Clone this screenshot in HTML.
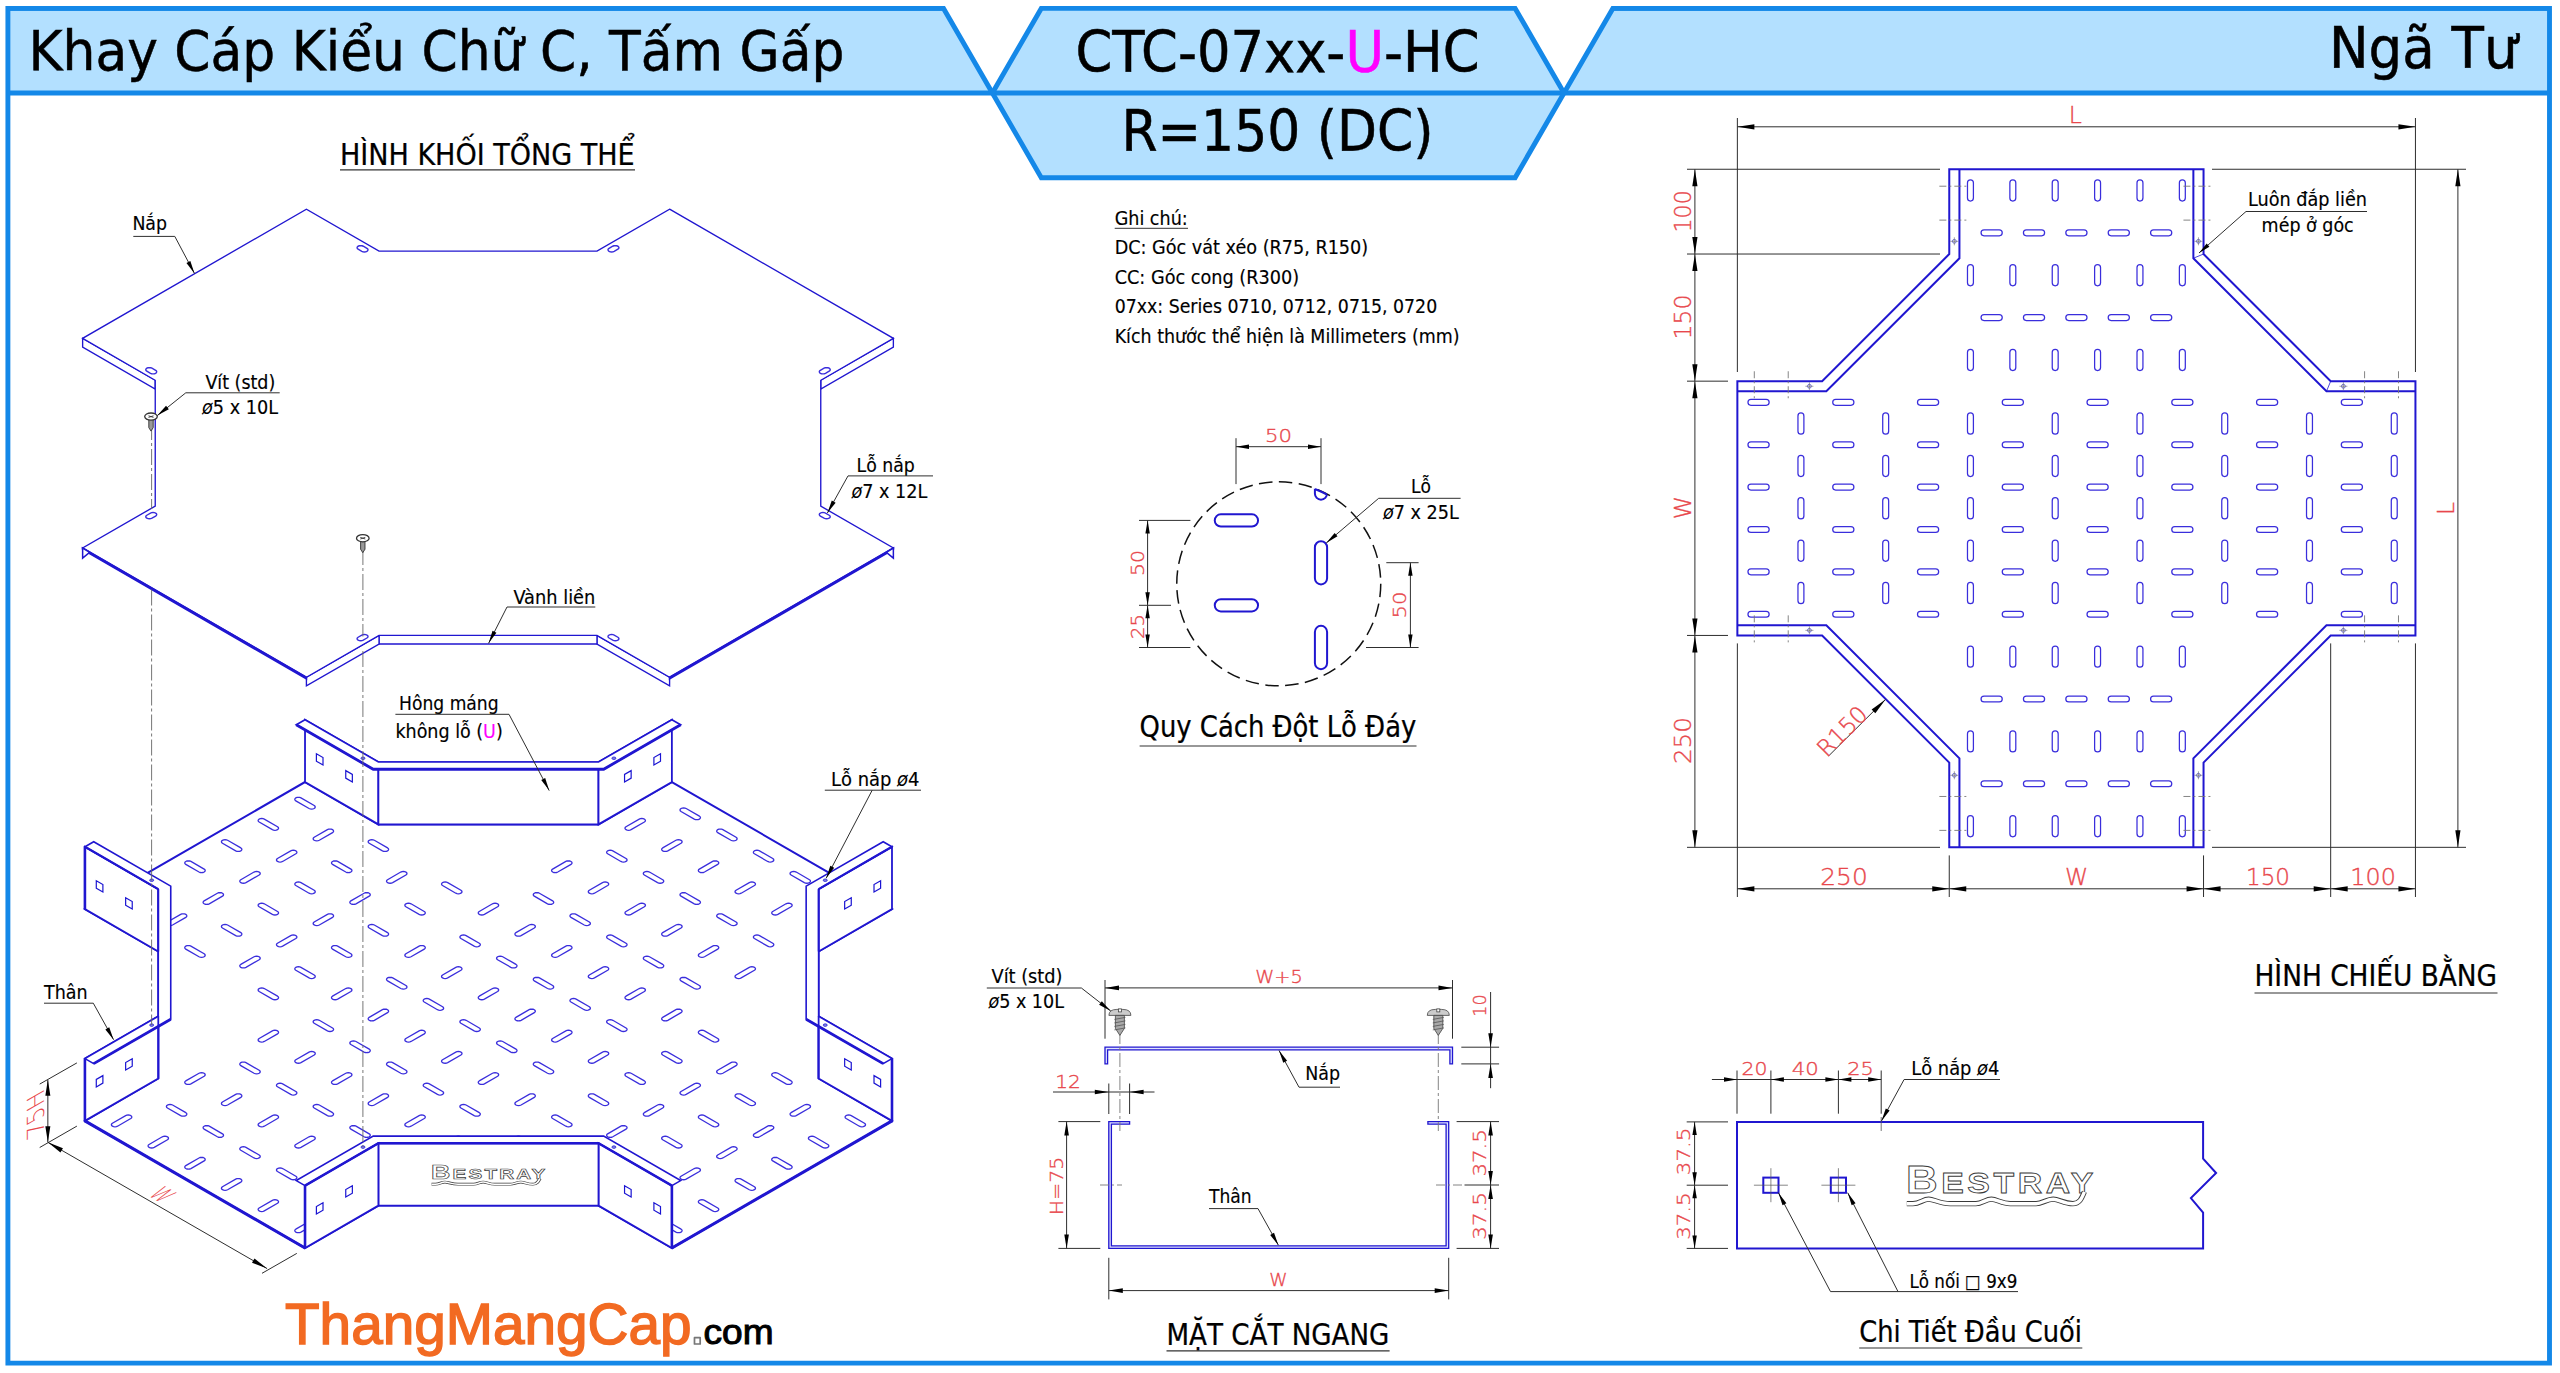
<!DOCTYPE html>
<html><head><meta charset="utf-8"><title>CTC-07xx-U-HC</title>
<style>html,body{margin:0;padding:0;background:#fff}svg{display:block}text{white-space:pre}</style></head>
<body><svg width="2560" height="1373" viewBox="0 0 2560 1373">
<rect width="2560" height="1373" fill="#fff"/>
<polygon points="7.9,8.4 943.55,8.4 992.4,93 7.9,93" fill="#b3e0ff"/>
<polygon points="1041.25,8.4 1515.15,8.4 1564,93 1515.09,177.7 1041.31,177.7 992.4,93" fill="#b3e0ff"/>
<polygon points="1612.85,8.4 2549.5,8.4 2549.5,93 1564,93" fill="#b3e0ff"/>
<polyline points="943.55,8.4 7.9,8.4 7.9,1363.1 2549.5,1363.1 2549.5,8.4 1612.85,8.4" fill="none" stroke="#1488e8" stroke-width="4.9" stroke-linejoin="miter" />
<line x1="7.9" y1="93" x2="2549.5" y2="93" stroke="#1488e8" stroke-width="4.9" />
<polyline points="7.9,8.4 943.55,8.4 992.4,93 1041.31,177.7 1515.09,177.7 1564,93 1612.85,8.4 2549.5,8.4" fill="none" stroke="#1488e8" stroke-width="4.9" stroke-linejoin="miter" />
<polyline points="992.4,93 1041.25,8.4 1515.15,8.4 1564,93" fill="none" stroke="#1488e8" stroke-width="4.9" stroke-linejoin="miter" />
<g id="plan">
<g fill="none" stroke="#3a2edc" stroke-width="1.25">
<rect x="1747.96" y="399.38" width="21.19" height="5.93" rx="2.97"/>
<rect x="1747.96" y="441.76" width="21.19" height="5.93" rx="2.97"/>
<rect x="1747.96" y="484.14" width="21.19" height="5.93" rx="2.97"/>
<rect x="1747.96" y="526.52" width="21.19" height="5.93" rx="2.97"/>
<rect x="1747.96" y="568.9" width="21.19" height="5.93" rx="2.97"/>
<rect x="1747.96" y="611.28" width="21.19" height="5.93" rx="2.97"/>
<rect x="1832.72" y="399.38" width="21.19" height="5.93" rx="2.97"/>
<rect x="1832.72" y="441.76" width="21.19" height="5.93" rx="2.97"/>
<rect x="1832.72" y="484.14" width="21.19" height="5.93" rx="2.97"/>
<rect x="1832.72" y="526.52" width="21.19" height="5.93" rx="2.97"/>
<rect x="1832.72" y="568.9" width="21.19" height="5.93" rx="2.97"/>
<rect x="1832.72" y="611.28" width="21.19" height="5.93" rx="2.97"/>
<rect x="1917.48" y="399.38" width="21.19" height="5.93" rx="2.97"/>
<rect x="1917.48" y="441.76" width="21.19" height="5.93" rx="2.97"/>
<rect x="1917.48" y="484.14" width="21.19" height="5.93" rx="2.97"/>
<rect x="1917.48" y="526.52" width="21.19" height="5.93" rx="2.97"/>
<rect x="1917.48" y="568.9" width="21.19" height="5.93" rx="2.97"/>
<rect x="1917.48" y="611.28" width="21.19" height="5.93" rx="2.97"/>
<rect x="2002.24" y="399.38" width="21.19" height="5.93" rx="2.97"/>
<rect x="2002.24" y="441.76" width="21.19" height="5.93" rx="2.97"/>
<rect x="2002.24" y="484.14" width="21.19" height="5.93" rx="2.97"/>
<rect x="2002.24" y="526.52" width="21.19" height="5.93" rx="2.97"/>
<rect x="2002.24" y="568.9" width="21.19" height="5.93" rx="2.97"/>
<rect x="2002.24" y="611.28" width="21.19" height="5.93" rx="2.97"/>
<rect x="2087" y="399.38" width="21.19" height="5.93" rx="2.97"/>
<rect x="2087" y="441.76" width="21.19" height="5.93" rx="2.97"/>
<rect x="2087" y="484.14" width="21.19" height="5.93" rx="2.97"/>
<rect x="2087" y="526.52" width="21.19" height="5.93" rx="2.97"/>
<rect x="2087" y="568.9" width="21.19" height="5.93" rx="2.97"/>
<rect x="2087" y="611.28" width="21.19" height="5.93" rx="2.97"/>
<rect x="2171.76" y="399.38" width="21.19" height="5.93" rx="2.97"/>
<rect x="2171.76" y="441.76" width="21.19" height="5.93" rx="2.97"/>
<rect x="2171.76" y="484.14" width="21.19" height="5.93" rx="2.97"/>
<rect x="2171.76" y="526.52" width="21.19" height="5.93" rx="2.97"/>
<rect x="2171.76" y="568.9" width="21.19" height="5.93" rx="2.97"/>
<rect x="2171.76" y="611.28" width="21.19" height="5.93" rx="2.97"/>
<rect x="2256.52" y="399.38" width="21.19" height="5.93" rx="2.97"/>
<rect x="2256.52" y="441.76" width="21.19" height="5.93" rx="2.97"/>
<rect x="2256.52" y="484.14" width="21.19" height="5.93" rx="2.97"/>
<rect x="2256.52" y="526.52" width="21.19" height="5.93" rx="2.97"/>
<rect x="2256.52" y="568.9" width="21.19" height="5.93" rx="2.97"/>
<rect x="2256.52" y="611.28" width="21.19" height="5.93" rx="2.97"/>
<rect x="2341.28" y="399.38" width="21.19" height="5.93" rx="2.97"/>
<rect x="2341.28" y="441.76" width="21.19" height="5.93" rx="2.97"/>
<rect x="2341.28" y="484.14" width="21.19" height="5.93" rx="2.97"/>
<rect x="2341.28" y="526.52" width="21.19" height="5.93" rx="2.97"/>
<rect x="2341.28" y="568.9" width="21.19" height="5.93" rx="2.97"/>
<rect x="2341.28" y="611.28" width="21.19" height="5.93" rx="2.97"/>
<rect x="1797.96" y="412.94" width="5.93" height="21.19" rx="2.97"/>
<rect x="1797.96" y="455.32" width="5.93" height="21.19" rx="2.97"/>
<rect x="1797.96" y="497.7" width="5.93" height="21.19" rx="2.97"/>
<rect x="1797.96" y="540.09" width="5.93" height="21.19" rx="2.97"/>
<rect x="1797.96" y="582.47" width="5.93" height="21.19" rx="2.97"/>
<rect x="1882.72" y="412.94" width="5.93" height="21.19" rx="2.97"/>
<rect x="1882.72" y="455.32" width="5.93" height="21.19" rx="2.97"/>
<rect x="1882.72" y="497.7" width="5.93" height="21.19" rx="2.97"/>
<rect x="1882.72" y="540.09" width="5.93" height="21.19" rx="2.97"/>
<rect x="1882.72" y="582.47" width="5.93" height="21.19" rx="2.97"/>
<rect x="1967.48" y="412.94" width="5.93" height="21.19" rx="2.97"/>
<rect x="1967.48" y="455.32" width="5.93" height="21.19" rx="2.97"/>
<rect x="1967.48" y="497.7" width="5.93" height="21.19" rx="2.97"/>
<rect x="1967.48" y="540.09" width="5.93" height="21.19" rx="2.97"/>
<rect x="1967.48" y="582.47" width="5.93" height="21.19" rx="2.97"/>
<rect x="2052.24" y="412.94" width="5.93" height="21.19" rx="2.97"/>
<rect x="2052.24" y="455.32" width="5.93" height="21.19" rx="2.97"/>
<rect x="2052.24" y="497.7" width="5.93" height="21.19" rx="2.97"/>
<rect x="2052.24" y="540.09" width="5.93" height="21.19" rx="2.97"/>
<rect x="2052.24" y="582.47" width="5.93" height="21.19" rx="2.97"/>
<rect x="2137" y="412.94" width="5.93" height="21.19" rx="2.97"/>
<rect x="2137" y="455.32" width="5.93" height="21.19" rx="2.97"/>
<rect x="2137" y="497.7" width="5.93" height="21.19" rx="2.97"/>
<rect x="2137" y="540.09" width="5.93" height="21.19" rx="2.97"/>
<rect x="2137" y="582.47" width="5.93" height="21.19" rx="2.97"/>
<rect x="2221.76" y="412.94" width="5.93" height="21.19" rx="2.97"/>
<rect x="2221.76" y="455.32" width="5.93" height="21.19" rx="2.97"/>
<rect x="2221.76" y="497.7" width="5.93" height="21.19" rx="2.97"/>
<rect x="2221.76" y="540.09" width="5.93" height="21.19" rx="2.97"/>
<rect x="2221.76" y="582.47" width="5.93" height="21.19" rx="2.97"/>
<rect x="2306.52" y="412.94" width="5.93" height="21.19" rx="2.97"/>
<rect x="2306.52" y="455.32" width="5.93" height="21.19" rx="2.97"/>
<rect x="2306.52" y="497.7" width="5.93" height="21.19" rx="2.97"/>
<rect x="2306.52" y="540.09" width="5.93" height="21.19" rx="2.97"/>
<rect x="2306.52" y="582.47" width="5.93" height="21.19" rx="2.97"/>
<rect x="2391.28" y="412.94" width="5.93" height="21.19" rx="2.97"/>
<rect x="2391.28" y="455.32" width="5.93" height="21.19" rx="2.97"/>
<rect x="2391.28" y="497.7" width="5.93" height="21.19" rx="2.97"/>
<rect x="2391.28" y="540.09" width="5.93" height="21.19" rx="2.97"/>
<rect x="2391.28" y="582.47" width="5.93" height="21.19" rx="2.97"/>
<rect x="1967.48" y="349.38" width="5.93" height="21.19" rx="2.97"/>
<rect x="2009.86" y="349.38" width="5.93" height="21.19" rx="2.97"/>
<rect x="2052.24" y="349.38" width="5.93" height="21.19" rx="2.97"/>
<rect x="2094.62" y="349.38" width="5.93" height="21.19" rx="2.97"/>
<rect x="2137" y="349.38" width="5.93" height="21.19" rx="2.97"/>
<rect x="2179.38" y="349.38" width="5.93" height="21.19" rx="2.97"/>
<rect x="1967.48" y="264.62" width="5.93" height="21.19" rx="2.97"/>
<rect x="2009.86" y="264.62" width="5.93" height="21.19" rx="2.97"/>
<rect x="2052.24" y="264.62" width="5.93" height="21.19" rx="2.97"/>
<rect x="2094.62" y="264.62" width="5.93" height="21.19" rx="2.97"/>
<rect x="2137" y="264.62" width="5.93" height="21.19" rx="2.97"/>
<rect x="2179.38" y="264.62" width="5.93" height="21.19" rx="2.97"/>
<rect x="1967.48" y="179.85" width="5.93" height="21.19" rx="2.97"/>
<rect x="2009.86" y="179.85" width="5.93" height="21.19" rx="2.97"/>
<rect x="2052.24" y="179.85" width="5.93" height="21.19" rx="2.97"/>
<rect x="2094.62" y="179.85" width="5.93" height="21.19" rx="2.97"/>
<rect x="2137" y="179.85" width="5.93" height="21.19" rx="2.97"/>
<rect x="2179.38" y="179.85" width="5.93" height="21.19" rx="2.97"/>
<rect x="1981.05" y="314.62" width="21.19" height="5.93" rx="2.97"/>
<rect x="2023.42" y="314.62" width="21.19" height="5.93" rx="2.97"/>
<rect x="2065.81" y="314.62" width="21.19" height="5.93" rx="2.97"/>
<rect x="2108.19" y="314.62" width="21.19" height="5.93" rx="2.97"/>
<rect x="2150.57" y="314.62" width="21.19" height="5.93" rx="2.97"/>
<rect x="1981.05" y="229.86" width="21.19" height="5.93" rx="2.97"/>
<rect x="2023.42" y="229.86" width="21.19" height="5.93" rx="2.97"/>
<rect x="2065.81" y="229.86" width="21.19" height="5.93" rx="2.97"/>
<rect x="2108.19" y="229.86" width="21.19" height="5.93" rx="2.97"/>
<rect x="2150.57" y="229.86" width="21.19" height="5.93" rx="2.97"/>
<rect x="1967.48" y="646.03" width="5.93" height="21.19" rx="2.97"/>
<rect x="2009.86" y="646.03" width="5.93" height="21.19" rx="2.97"/>
<rect x="2052.24" y="646.03" width="5.93" height="21.19" rx="2.97"/>
<rect x="2094.62" y="646.03" width="5.93" height="21.19" rx="2.97"/>
<rect x="2137" y="646.03" width="5.93" height="21.19" rx="2.97"/>
<rect x="2179.38" y="646.03" width="5.93" height="21.19" rx="2.97"/>
<rect x="1967.48" y="730.79" width="5.93" height="21.19" rx="2.97"/>
<rect x="2009.86" y="730.79" width="5.93" height="21.19" rx="2.97"/>
<rect x="2052.24" y="730.79" width="5.93" height="21.19" rx="2.97"/>
<rect x="2094.62" y="730.79" width="5.93" height="21.19" rx="2.97"/>
<rect x="2137" y="730.79" width="5.93" height="21.19" rx="2.97"/>
<rect x="2179.38" y="730.79" width="5.93" height="21.19" rx="2.97"/>
<rect x="1967.48" y="815.56" width="5.93" height="21.19" rx="2.97"/>
<rect x="2009.86" y="815.56" width="5.93" height="21.19" rx="2.97"/>
<rect x="2052.24" y="815.56" width="5.93" height="21.19" rx="2.97"/>
<rect x="2094.62" y="815.56" width="5.93" height="21.19" rx="2.97"/>
<rect x="2137" y="815.56" width="5.93" height="21.19" rx="2.97"/>
<rect x="2179.38" y="815.56" width="5.93" height="21.19" rx="2.97"/>
<rect x="1981.05" y="696.04" width="21.19" height="5.93" rx="2.97"/>
<rect x="2023.42" y="696.04" width="21.19" height="5.93" rx="2.97"/>
<rect x="2065.81" y="696.04" width="21.19" height="5.93" rx="2.97"/>
<rect x="2108.19" y="696.04" width="21.19" height="5.93" rx="2.97"/>
<rect x="2150.57" y="696.04" width="21.19" height="5.93" rx="2.97"/>
<rect x="1981.05" y="780.8" width="21.19" height="5.93" rx="2.97"/>
<rect x="2023.42" y="780.8" width="21.19" height="5.93" rx="2.97"/>
<rect x="2065.81" y="780.8" width="21.19" height="5.93" rx="2.97"/>
<rect x="2108.19" y="780.8" width="21.19" height="5.93" rx="2.97"/>
<rect x="2150.57" y="780.8" width="21.19" height="5.93" rx="2.97"/>
</g>
<polygon points="1949.26,169.26 2203.54,169.26 2203.54,254.02 2330.68,381.16 2415.44,381.16 2415.44,635.44 2330.68,635.44 2203.54,762.58 2203.54,847.34 1949.26,847.34 1949.26,762.58 1822.12,635.44 1737.36,635.44 1737.36,381.16 1822.12,381.16 1949.26,254.02" fill="none" stroke="#2016d0" stroke-width="2" stroke-linejoin="miter" />
<polyline points="1959.43,169.26 1959.43,258.23 1826.33,391.33 1737.36,391.33" fill="none" stroke="#2016d0" stroke-width="2" stroke-linejoin="miter" />
<polyline points="2193.37,169.26 2193.37,258.23 2326.47,391.33 2415.44,391.33" fill="none" stroke="#2016d0" stroke-width="2" stroke-linejoin="miter" />
<polyline points="2193.37,847.34 2193.37,758.37 2326.47,625.27 2415.44,625.27" fill="none" stroke="#2016d0" stroke-width="2" stroke-linejoin="miter" />
<polyline points="1959.43,847.34 1959.43,758.37 1826.33,625.27 1737.36,625.27" fill="none" stroke="#2016d0" stroke-width="2" stroke-linejoin="miter" />
<line x1="2203.54" y1="254.02" x2="2193.37" y2="258.23" stroke="#2016d0" stroke-width="0.8" />
<line x1="2330.68" y1="381.16" x2="2326.47" y2="391.33" stroke="#2016d0" stroke-width="0.8" />
<line x1="1939.35" y1="186.21" x2="1969.35" y2="186.21" stroke="#777" stroke-width="0.9" stroke-dasharray="7 3 2 3"/>
<line x1="1939.35" y1="220.12" x2="1969.35" y2="220.12" stroke="#777" stroke-width="0.9" stroke-dasharray="7 3 2 3"/>
<circle cx="1954.35" cy="241.31" r="1.9" fill="none" stroke="#4a4ac8" stroke-width="0.8"/>
<line x1="1950.35" y1="241.31" x2="1958.35" y2="241.31" stroke="#666" stroke-width="0.6" />
<line x1="1954.35" y1="237.31" x2="1954.35" y2="245.31" stroke="#666" stroke-width="0.6" />
<line x1="1754.31" y1="371.25" x2="1754.31" y2="401.25" stroke="#777" stroke-width="0.9" stroke-dasharray="7 3 2 3"/>
<line x1="1788.22" y1="371.25" x2="1788.22" y2="401.25" stroke="#777" stroke-width="0.9" stroke-dasharray="7 3 2 3"/>
<circle cx="1809.41" cy="386.25" r="1.9" fill="none" stroke="#4a4ac8" stroke-width="0.8"/>
<line x1="1805.41" y1="386.25" x2="1813.41" y2="386.25" stroke="#666" stroke-width="0.6" />
<line x1="1809.41" y1="382.25" x2="1809.41" y2="390.25" stroke="#666" stroke-width="0.6" />
<line x1="1939.35" y1="830.39" x2="1969.35" y2="830.39" stroke="#777" stroke-width="0.9" stroke-dasharray="7 3 2 3"/>
<line x1="1939.35" y1="796.48" x2="1969.35" y2="796.48" stroke="#777" stroke-width="0.9" stroke-dasharray="7 3 2 3"/>
<circle cx="1954.35" cy="775.29" r="1.9" fill="none" stroke="#4a4ac8" stroke-width="0.8"/>
<line x1="1950.35" y1="775.29" x2="1958.35" y2="775.29" stroke="#666" stroke-width="0.6" />
<line x1="1954.35" y1="771.29" x2="1954.35" y2="779.29" stroke="#666" stroke-width="0.6" />
<line x1="1754.31" y1="615.35" x2="1754.31" y2="645.35" stroke="#777" stroke-width="0.9" stroke-dasharray="7 3 2 3"/>
<line x1="1788.22" y1="615.35" x2="1788.22" y2="645.35" stroke="#777" stroke-width="0.9" stroke-dasharray="7 3 2 3"/>
<circle cx="1809.41" cy="630.35" r="1.9" fill="none" stroke="#4a4ac8" stroke-width="0.8"/>
<line x1="1805.41" y1="630.35" x2="1813.41" y2="630.35" stroke="#666" stroke-width="0.6" />
<line x1="1809.41" y1="626.35" x2="1809.41" y2="634.35" stroke="#666" stroke-width="0.6" />
<line x1="2183.45" y1="186.21" x2="2213.45" y2="186.21" stroke="#777" stroke-width="0.9" stroke-dasharray="7 3 2 3"/>
<line x1="2183.45" y1="220.12" x2="2213.45" y2="220.12" stroke="#777" stroke-width="0.9" stroke-dasharray="7 3 2 3"/>
<circle cx="2198.45" cy="241.31" r="1.9" fill="none" stroke="#4a4ac8" stroke-width="0.8"/>
<line x1="2194.45" y1="241.31" x2="2202.45" y2="241.31" stroke="#666" stroke-width="0.6" />
<line x1="2198.45" y1="237.31" x2="2198.45" y2="245.31" stroke="#666" stroke-width="0.6" />
<line x1="2398.49" y1="371.25" x2="2398.49" y2="401.25" stroke="#777" stroke-width="0.9" stroke-dasharray="7 3 2 3"/>
<line x1="2364.58" y1="371.25" x2="2364.58" y2="401.25" stroke="#777" stroke-width="0.9" stroke-dasharray="7 3 2 3"/>
<circle cx="2343.39" cy="386.25" r="1.9" fill="none" stroke="#4a4ac8" stroke-width="0.8"/>
<line x1="2339.39" y1="386.25" x2="2347.39" y2="386.25" stroke="#666" stroke-width="0.6" />
<line x1="2343.39" y1="382.25" x2="2343.39" y2="390.25" stroke="#666" stroke-width="0.6" />
<line x1="2183.45" y1="830.39" x2="2213.45" y2="830.39" stroke="#777" stroke-width="0.9" stroke-dasharray="7 3 2 3"/>
<line x1="2183.45" y1="796.48" x2="2213.45" y2="796.48" stroke="#777" stroke-width="0.9" stroke-dasharray="7 3 2 3"/>
<circle cx="2198.45" cy="775.29" r="1.9" fill="none" stroke="#4a4ac8" stroke-width="0.8"/>
<line x1="2194.45" y1="775.29" x2="2202.45" y2="775.29" stroke="#666" stroke-width="0.6" />
<line x1="2198.45" y1="771.29" x2="2198.45" y2="779.29" stroke="#666" stroke-width="0.6" />
<line x1="2398.49" y1="615.35" x2="2398.49" y2="645.35" stroke="#777" stroke-width="0.9" stroke-dasharray="7 3 2 3"/>
<line x1="2364.58" y1="615.35" x2="2364.58" y2="645.35" stroke="#777" stroke-width="0.9" stroke-dasharray="7 3 2 3"/>
<circle cx="2343.39" cy="630.35" r="1.9" fill="none" stroke="#4a4ac8" stroke-width="0.8"/>
<line x1="2339.39" y1="630.35" x2="2347.39" y2="630.35" stroke="#666" stroke-width="0.6" />
<line x1="2343.39" y1="626.35" x2="2343.39" y2="634.35" stroke="#666" stroke-width="0.6" />
<line x1="1737.36" y1="118" x2="1737.36" y2="372" stroke="#2e2e2e" stroke-width="1" />
<line x1="2415.44" y1="118" x2="2415.44" y2="372" stroke="#2e2e2e" stroke-width="1" />
<line x1="1737.36" y1="126.8" x2="2415.44" y2="126.8" stroke="#2e2e2e" stroke-width="1" />
<polygon points="1737.36,126.8 1754.36,124.2 1754.36,129.4" fill="#000"/>
<polygon points="2415.44,126.8 2398.44,129.4 2398.44,124.2" fill="#000"/>
<line x1="1687" y1="169.26" x2="1940" y2="169.26" stroke="#2e2e2e" stroke-width="1" />
<line x1="1687" y1="254.02" x2="1940" y2="254.02" stroke="#2e2e2e" stroke-width="1" />
<line x1="1687" y1="381.16" x2="1728" y2="381.16" stroke="#2e2e2e" stroke-width="1" />
<line x1="1687" y1="635.44" x2="1728" y2="635.44" stroke="#2e2e2e" stroke-width="1" />
<line x1="1687" y1="847.34" x2="1940" y2="847.34" stroke="#2e2e2e" stroke-width="1" />
<line x1="1694.9" y1="169.26" x2="1694.9" y2="254.02" stroke="#2e2e2e" stroke-width="1" />
<polygon points="1694.9,169.26 1697.5,186.26 1692.3,186.26" fill="#000"/>
<polygon points="1694.9,254.02 1692.3,237.02 1697.5,237.02" fill="#000"/>
<line x1="1694.9" y1="254.02" x2="1694.9" y2="381.16" stroke="#2e2e2e" stroke-width="1" />
<polygon points="1694.9,254.02 1697.5,271.02 1692.3,271.02" fill="#000"/>
<polygon points="1694.9,381.16 1692.3,364.16 1697.5,364.16" fill="#000"/>
<line x1="1694.9" y1="381.16" x2="1694.9" y2="635.44" stroke="#2e2e2e" stroke-width="1" />
<polygon points="1694.9,381.16 1697.5,398.16 1692.3,398.16" fill="#000"/>
<polygon points="1694.9,635.44 1692.3,618.44 1697.5,618.44" fill="#000"/>
<line x1="1694.9" y1="635.44" x2="1694.9" y2="847.34" stroke="#2e2e2e" stroke-width="1" />
<polygon points="1694.9,635.44 1697.5,652.44 1692.3,652.44" fill="#000"/>
<polygon points="1694.9,847.34 1692.3,830.34 1697.5,830.34" fill="#000"/>
<line x1="2212" y1="169.26" x2="2466" y2="169.26" stroke="#2e2e2e" stroke-width="1" />
<line x1="2212" y1="847.34" x2="2466" y2="847.34" stroke="#2e2e2e" stroke-width="1" />
<line x1="2457.9" y1="169.26" x2="2457.9" y2="847.34" stroke="#2e2e2e" stroke-width="1" />
<polygon points="2457.9,169.26 2460.5,186.26 2455.3,186.26" fill="#000"/>
<polygon points="2457.9,847.34 2455.3,830.34 2460.5,830.34" fill="#000"/>
<line x1="1737.36" y1="643.4" x2="1737.36" y2="897" stroke="#2e2e2e" stroke-width="1" />
<line x1="1949.26" y1="855.4" x2="1949.26" y2="897" stroke="#2e2e2e" stroke-width="1" />
<line x1="2203.54" y1="855.4" x2="2203.54" y2="897" stroke="#2e2e2e" stroke-width="1" />
<line x1="2330.68" y1="643.4" x2="2330.68" y2="897" stroke="#2e2e2e" stroke-width="1" />
<line x1="2415.44" y1="643.4" x2="2415.44" y2="897" stroke="#2e2e2e" stroke-width="1" />
<line x1="1737.36" y1="888.8" x2="1949.26" y2="888.8" stroke="#2e2e2e" stroke-width="1" />
<polygon points="1737.36,888.8 1754.36,886.2 1754.36,891.4" fill="#000"/>
<polygon points="1949.26,888.8 1932.26,891.4 1932.26,886.2" fill="#000"/>
<line x1="1949.26" y1="888.8" x2="2203.54" y2="888.8" stroke="#2e2e2e" stroke-width="1" />
<polygon points="1949.26,888.8 1966.26,886.2 1966.26,891.4" fill="#000"/>
<polygon points="2203.54,888.8 2186.54,891.4 2186.54,886.2" fill="#000"/>
<line x1="2203.54" y1="888.8" x2="2330.68" y2="888.8" stroke="#2e2e2e" stroke-width="1" />
<polygon points="2203.54,888.8 2220.54,886.2 2220.54,891.4" fill="#000"/>
<polygon points="2330.68,888.8 2313.68,891.4 2313.68,886.2" fill="#000"/>
<line x1="2330.68" y1="888.8" x2="2415.44" y2="888.8" stroke="#2e2e2e" stroke-width="1" />
<polygon points="2330.68,888.8 2347.68,886.2 2347.68,891.4" fill="#000"/>
<polygon points="2415.44,888.8 2398.44,891.4 2398.44,886.2" fill="#000"/>
<line x1="1828.7" y1="755.9" x2="1885.5" y2="699.4" stroke="#2e2e2e" stroke-width="1" />
<polygon points="1885.5,699.4 1875.32,713.26 1871.64,709.58" fill="#000"/>
<polyline points="2367,211.5 2246,211.5 2199,253" fill="none" stroke="#2e2e2e" stroke-width="1" stroke-linejoin="miter" />
<polygon points="2199,253 2206.74,243.62 2209.37,246.64" fill="#000"/>
</g>
<defs><path id="su" d="M9.17 2.33 L9.96 3.01 L10.23 3.81 L9.96 4.61 L9.17 5.29 L7.99 5.75 L6.6 5.91 L5.21 5.75 L4.04 5.29 L-9.17 -2.33 L-9.96 -3.01 L-10.23 -3.81 L-9.96 -4.61 L-9.17 -5.29 L-7.99 -5.75 L-6.6 -5.91 L-5.21 -5.75 L-4.04 -5.29Z"/><path id="sv" d="M-9.17 2.33 L-9.96 3.01 L-10.23 3.81 L-9.96 4.61 L-9.17 5.29 L-7.99 5.75 L-6.6 5.91 L-5.21 5.75 L-4.04 5.29 L9.17 -2.33 L9.96 -3.01 L10.23 -3.81 L9.96 -4.61 L9.17 -5.29 L7.99 -5.75 L6.6 -5.91 L5.21 -5.75 L4.04 -5.29Z"/></defs>
<g id="isobody">
<polygon points="671.88,782.02 891.99,909.1 818.62,951.46 818.62,1078.54 891.99,1120.9 671.88,1247.98 598.5,1205.62 378.39,1205.62 305.02,1247.98 84.91,1120.9 158.28,1078.54 158.28,951.46 84.91,909.1 305.02,782.02 378.39,824.38 598.5,824.38" fill="#fff" stroke="#2016d0" stroke-width="2" stroke-linejoin="miter" />
<g fill="none" stroke="#3a2edc" stroke-width="1.3">
<use href="#sv" x="121.6" y="1120.9"/>
<use href="#sv" x="158.28" y="1142.08"/>
<use href="#sv" x="194.97" y="1163.26"/>
<use href="#sv" x="231.65" y="1184.44"/>
<use href="#sv" x="268.34" y="1205.62"/>
<use href="#sv" x="305.02" y="1226.8"/>
<use href="#sv" x="194.97" y="1078.54"/>
<use href="#sv" x="231.65" y="1099.72"/>
<use href="#sv" x="268.34" y="1120.9"/>
<use href="#sv" x="305.02" y="1142.08"/>
<use href="#sv" x="341.71" y="1163.26"/>
<use href="#sv" x="378.39" y="1184.44"/>
<use href="#sv" x="268.34" y="1036.18"/>
<use href="#sv" x="305.02" y="1057.36"/>
<use href="#sv" x="341.71" y="1078.54"/>
<use href="#sv" x="378.39" y="1099.72"/>
<use href="#sv" x="415.08" y="1120.9"/>
<use href="#sv" x="451.76" y="1142.08"/>
<use href="#sv" x="341.71" y="993.82"/>
<use href="#sv" x="378.39" y="1015"/>
<use href="#sv" x="415.08" y="1036.18"/>
<use href="#sv" x="451.76" y="1057.36"/>
<use href="#sv" x="488.45" y="1078.54"/>
<use href="#sv" x="525.13" y="1099.72"/>
<use href="#sv" x="415.08" y="951.46"/>
<use href="#sv" x="451.76" y="972.64"/>
<use href="#sv" x="488.45" y="993.82"/>
<use href="#sv" x="525.13" y="1015"/>
<use href="#sv" x="561.82" y="1036.18"/>
<use href="#sv" x="598.5" y="1057.36"/>
<use href="#sv" x="488.45" y="909.1"/>
<use href="#sv" x="525.13" y="930.28"/>
<use href="#sv" x="561.82" y="951.46"/>
<use href="#sv" x="598.5" y="972.64"/>
<use href="#sv" x="635.19" y="993.82"/>
<use href="#sv" x="671.88" y="1015"/>
<use href="#sv" x="561.82" y="866.74"/>
<use href="#sv" x="598.5" y="887.92"/>
<use href="#sv" x="635.19" y="909.1"/>
<use href="#sv" x="671.88" y="930.28"/>
<use href="#sv" x="708.56" y="951.46"/>
<use href="#sv" x="745.25" y="972.64"/>
<use href="#sv" x="635.19" y="824.38"/>
<use href="#sv" x="671.88" y="845.56"/>
<use href="#sv" x="708.56" y="866.74"/>
<use href="#sv" x="745.25" y="887.92"/>
<use href="#sv" x="781.93" y="909.1"/>
<use href="#sv" x="818.62" y="930.28"/>
<use href="#su" x="176.63" y="1110.31"/>
<use href="#su" x="213.31" y="1131.49"/>
<use href="#su" x="250" y="1152.67"/>
<use href="#su" x="286.68" y="1173.85"/>
<use href="#su" x="323.37" y="1195.03"/>
<use href="#su" x="250" y="1067.95"/>
<use href="#su" x="286.68" y="1089.13"/>
<use href="#su" x="323.37" y="1110.31"/>
<use href="#su" x="360.05" y="1131.49"/>
<use href="#su" x="396.74" y="1152.67"/>
<use href="#su" x="323.37" y="1025.59"/>
<use href="#su" x="360.05" y="1046.77"/>
<use href="#su" x="396.74" y="1067.95"/>
<use href="#su" x="433.42" y="1089.13"/>
<use href="#su" x="470.11" y="1110.31"/>
<use href="#su" x="396.74" y="983.23"/>
<use href="#su" x="433.42" y="1004.41"/>
<use href="#su" x="470.11" y="1025.59"/>
<use href="#su" x="506.79" y="1046.77"/>
<use href="#su" x="543.48" y="1067.95"/>
<use href="#su" x="470.11" y="940.87"/>
<use href="#su" x="506.79" y="962.05"/>
<use href="#su" x="543.48" y="983.23"/>
<use href="#su" x="580.16" y="1004.41"/>
<use href="#su" x="616.85" y="1025.59"/>
<use href="#su" x="543.48" y="898.51"/>
<use href="#su" x="580.16" y="919.69"/>
<use href="#su" x="616.85" y="940.87"/>
<use href="#su" x="653.53" y="962.05"/>
<use href="#su" x="690.22" y="983.23"/>
<use href="#su" x="616.85" y="856.15"/>
<use href="#su" x="653.53" y="877.33"/>
<use href="#su" x="690.22" y="898.51"/>
<use href="#su" x="726.9" y="919.69"/>
<use href="#su" x="763.59" y="940.87"/>
<use href="#su" x="690.22" y="813.79"/>
<use href="#su" x="726.9" y="834.97"/>
<use href="#su" x="763.59" y="856.15"/>
<use href="#su" x="800.27" y="877.33"/>
<use href="#su" x="836.96" y="898.51"/>
<use href="#su" x="268.34" y="993.82"/>
<use href="#su" x="305.02" y="972.64"/>
<use href="#su" x="341.71" y="951.46"/>
<use href="#su" x="378.39" y="930.28"/>
<use href="#su" x="415.08" y="909.1"/>
<use href="#su" x="451.76" y="887.92"/>
<use href="#su" x="194.97" y="951.46"/>
<use href="#su" x="231.65" y="930.28"/>
<use href="#su" x="268.34" y="909.1"/>
<use href="#su" x="305.02" y="887.92"/>
<use href="#su" x="341.71" y="866.74"/>
<use href="#su" x="378.39" y="845.56"/>
<use href="#su" x="121.6" y="909.1"/>
<use href="#su" x="158.28" y="887.92"/>
<use href="#su" x="194.97" y="866.74"/>
<use href="#su" x="231.65" y="845.56"/>
<use href="#su" x="268.34" y="824.38"/>
<use href="#su" x="305.02" y="803.2"/>
<use href="#sv" x="250" y="962.05"/>
<use href="#sv" x="286.68" y="940.87"/>
<use href="#sv" x="323.37" y="919.69"/>
<use href="#sv" x="360.05" y="898.51"/>
<use href="#sv" x="396.74" y="877.33"/>
<use href="#sv" x="176.63" y="919.69"/>
<use href="#sv" x="213.31" y="898.51"/>
<use href="#sv" x="250" y="877.33"/>
<use href="#sv" x="286.68" y="856.15"/>
<use href="#sv" x="323.37" y="834.97"/>
<use href="#su" x="525.13" y="1142.08"/>
<use href="#su" x="561.82" y="1120.9"/>
<use href="#su" x="598.5" y="1099.72"/>
<use href="#su" x="635.19" y="1078.54"/>
<use href="#su" x="671.88" y="1057.36"/>
<use href="#su" x="708.56" y="1036.18"/>
<use href="#su" x="598.5" y="1184.44"/>
<use href="#su" x="635.19" y="1163.26"/>
<use href="#su" x="671.88" y="1142.08"/>
<use href="#su" x="708.56" y="1120.9"/>
<use href="#su" x="745.25" y="1099.72"/>
<use href="#su" x="781.93" y="1078.54"/>
<use href="#su" x="671.88" y="1226.8"/>
<use href="#su" x="708.56" y="1205.62"/>
<use href="#su" x="745.25" y="1184.44"/>
<use href="#su" x="781.93" y="1163.26"/>
<use href="#su" x="818.62" y="1142.08"/>
<use href="#su" x="855.3" y="1120.9"/>
<use href="#sv" x="580.16" y="1152.67"/>
<use href="#sv" x="616.85" y="1131.49"/>
<use href="#sv" x="653.53" y="1110.31"/>
<use href="#sv" x="690.22" y="1089.13"/>
<use href="#sv" x="726.9" y="1067.95"/>
<use href="#sv" x="653.53" y="1195.03"/>
<use href="#sv" x="690.22" y="1173.85"/>
<use href="#sv" x="726.9" y="1152.67"/>
<use href="#sv" x="763.59" y="1131.49"/>
<use href="#sv" x="800.27" y="1110.31"/>
</g>
<polygon points="305.02,782.02 378.39,824.38 378.39,762.05 305.02,719.69" fill="#fff" stroke="#2016d0" stroke-width="1.8" stroke-linejoin="miter" />
<polygon points="378.39,824.38 598.5,824.38 598.5,762.05 378.39,762.05" fill="#fff" stroke="#2016d0" stroke-width="1.8" stroke-linejoin="miter" />
<polygon points="598.5,824.38 671.88,782.02 671.88,719.69 598.5,762.05" fill="#fff" stroke="#2016d0" stroke-width="1.8" stroke-linejoin="miter" />
<polygon points="316.4,761.16 323,764.98 323,757.5 316.4,753.68" fill="#fff" stroke="#1a14d2" stroke-width="1.2" stroke-linejoin="miter" />
<polygon points="345.75,778.11 352.35,781.92 352.35,774.44 345.75,770.63" fill="#fff" stroke="#1a14d2" stroke-width="1.2" stroke-linejoin="miter" />
<polygon points="660.5,761.16 653.9,764.98 653.9,757.5 660.5,753.68" fill="#fff" stroke="#1a14d2" stroke-width="1.2" stroke-linejoin="miter" />
<polygon points="631.15,778.11 624.55,781.92 624.55,774.44 631.15,770.63" fill="#fff" stroke="#1a14d2" stroke-width="1.2" stroke-linejoin="miter" />
<polygon points="305.02,719.69 378.39,762.05 598.5,762.05 671.88,719.69 680.68,724.78 603.66,769.24 373.24,769.24 296.22,724.78" fill="#fff" stroke="#2016d0" stroke-width="1.6" stroke-linejoin="miter" />
<polyline points="296.22,724.78 373.24,769.24 603.66,769.24 680.68,724.78" fill="none" stroke="#2016d0" stroke-width="2.8" stroke-linejoin="miter" />
<ellipse cx="362.99" cy="758.24" rx="2" ry="1.3" fill="#8080e0" stroke="#1a14d2" stroke-width="0.7"/>
<ellipse cx="613.91" cy="758.24" rx="2" ry="1.3" fill="#8080e0" stroke="#1a14d2" stroke-width="0.7"/>
<polygon points="891.99,909.1 818.62,951.46 818.62,889.13 891.99,846.77" fill="#fff" stroke="#2016d0" stroke-width="1.8" stroke-linejoin="miter" />
<polygon points="880.61,888.24 874.01,892.06 874.01,884.58 880.61,880.76" fill="#fff" stroke="#1a14d2" stroke-width="1.2" stroke-linejoin="miter" />
<polygon points="851.26,905.19 844.66,909 844.66,901.52 851.26,897.71" fill="#fff" stroke="#1a14d2" stroke-width="1.2" stroke-linejoin="miter" />
<polygon points="818.62,1078.54 891.99,1120.9 891.99,1058.58 818.62,1016.21" fill="#fff" stroke="#2016d0" stroke-width="1.8" stroke-linejoin="miter" />
<polygon points="880.61,1086.91 874.01,1083.1 874.01,1075.62 880.61,1079.43" fill="#fff" stroke="#1a14d2" stroke-width="1.2" stroke-linejoin="miter" />
<polygon points="851.26,1069.97 844.66,1066.15 844.66,1058.68 851.26,1062.49" fill="#fff" stroke="#1a14d2" stroke-width="1.2" stroke-linejoin="miter" />
<polygon points="891.99,846.77 818.62,889.13 818.62,1016.21 891.99,1058.58 883.18,1063.66 806.16,1019.19 806.16,886.16 883.18,841.69" fill="#fff" stroke="#2016d0" stroke-width="1.6" stroke-linejoin="miter" />
<polyline points="891.99,846.77 818.62,889.13" fill="none" stroke="#2016d0" stroke-width="2.2" stroke-linejoin="miter" />
<polyline points="806.16,1019.19 883.18,1063.66" fill="none" stroke="#2016d0" stroke-width="2.8" stroke-linejoin="miter" />
<line x1="818.62" y1="889.13" x2="818.62" y2="951.46" stroke="#2016d0" stroke-width="1.8" />
<line x1="818.62" y1="1016.21" x2="818.62" y2="1078.54" stroke="#2016d0" stroke-width="1.8" />
<ellipse cx="825.22" cy="880.24" rx="2" ry="1.3" fill="#8080e0" stroke="#1a14d2" stroke-width="0.7"/>
<ellipse cx="825.22" cy="1025.11" rx="2" ry="1.3" fill="#8080e0" stroke="#1a14d2" stroke-width="0.7"/>
<polygon points="84.91,909.1 158.28,951.46 158.28,889.13 84.91,846.77" fill="#fff" stroke="#2016d0" stroke-width="1.8" stroke-linejoin="miter" />
<polygon points="96.29,888.24 102.89,892.06 102.89,884.58 96.29,880.76" fill="#fff" stroke="#1a14d2" stroke-width="1.2" stroke-linejoin="miter" />
<polygon points="125.64,905.19 132.24,909 132.24,901.52 125.64,897.71" fill="#fff" stroke="#1a14d2" stroke-width="1.2" stroke-linejoin="miter" />
<polygon points="158.28,1078.54 84.91,1120.9 84.91,1058.58 158.28,1016.21" fill="#fff" stroke="#2016d0" stroke-width="1.8" stroke-linejoin="miter" />
<polygon points="96.29,1086.91 102.89,1083.1 102.89,1075.62 96.29,1079.43" fill="#fff" stroke="#1a14d2" stroke-width="1.2" stroke-linejoin="miter" />
<polygon points="125.64,1069.97 132.24,1066.15 132.24,1058.68 125.64,1062.49" fill="#fff" stroke="#1a14d2" stroke-width="1.2" stroke-linejoin="miter" />
<polygon points="84.91,846.77 158.28,889.13 158.28,1016.21 84.91,1058.58 93.72,1063.66 170.74,1019.19 170.74,886.16 93.72,841.69" fill="#fff" stroke="#2016d0" stroke-width="1.6" stroke-linejoin="miter" />
<polyline points="84.91,846.77 158.28,889.13" fill="none" stroke="#2016d0" stroke-width="2.2" stroke-linejoin="miter" />
<polyline points="170.74,1019.19 93.72,1063.66" fill="none" stroke="#2016d0" stroke-width="2.8" stroke-linejoin="miter" />
<line x1="158.28" y1="889.13" x2="158.28" y2="951.46" stroke="#2016d0" stroke-width="1.8" />
<line x1="158.28" y1="1016.21" x2="158.28" y2="1078.54" stroke="#2016d0" stroke-width="1.8" />
<ellipse cx="151.68" cy="880.24" rx="2" ry="1.3" fill="#8080e0" stroke="#1a14d2" stroke-width="0.7"/>
<ellipse cx="151.68" cy="1025.11" rx="2" ry="1.3" fill="#8080e0" stroke="#1a14d2" stroke-width="0.7"/>
<polygon points="671.88,1185.65 598.5,1143.29 378.39,1143.29 305.02,1185.65 296.22,1180.57 373.24,1136.11 603.66,1136.11 680.68,1180.57" fill="#fff" stroke="#2016d0" stroke-width="1.6" stroke-linejoin="miter" />
<polygon points="598.5,1205.62 671.88,1247.98 671.88,1185.65 598.5,1143.29" fill="#fff" stroke="#2016d0" stroke-width="1.8" stroke-linejoin="miter" />
<polygon points="378.39,1205.62 598.5,1205.62 598.5,1143.29 378.39,1143.29" fill="#fff" stroke="#2016d0" stroke-width="1.8" stroke-linejoin="miter" />
<polygon points="305.02,1247.98 378.39,1205.62 378.39,1143.29 305.02,1185.65" fill="#fff" stroke="#2016d0" stroke-width="1.8" stroke-linejoin="miter" />
<polygon points="660.5,1213.99 653.9,1210.18 653.9,1202.7 660.5,1206.51" fill="#fff" stroke="#1a14d2" stroke-width="1.2" stroke-linejoin="miter" />
<polygon points="631.15,1197.05 624.55,1193.23 624.55,1185.76 631.15,1189.57" fill="#fff" stroke="#1a14d2" stroke-width="1.2" stroke-linejoin="miter" />
<polygon points="316.4,1213.99 323,1210.18 323,1202.7 316.4,1206.51" fill="#fff" stroke="#1a14d2" stroke-width="1.2" stroke-linejoin="miter" />
<polygon points="345.75,1197.05 352.35,1193.23 352.35,1185.76 345.75,1189.57" fill="#fff" stroke="#1a14d2" stroke-width="1.2" stroke-linejoin="miter" />
<polyline points="671.88,1185.65 598.5,1143.29 378.39,1143.29 305.02,1185.65" fill="none" stroke="#2016d0" stroke-width="2.4" stroke-linejoin="miter" />
<ellipse cx="613.91" cy="1147.11" rx="2" ry="1.3" fill="#8080e0" stroke="#1a14d2" stroke-width="0.7"/>
<ellipse cx="362.99" cy="1147.11" rx="2" ry="1.3" fill="#8080e0" stroke="#1a14d2" stroke-width="0.7"/>
<polyline points="84.91,1120.9 305.02,1247.98" fill="none" stroke="#2016d0" stroke-width="3" stroke-linejoin="miter" />
<polyline points="891.99,1120.9 671.88,1247.98" fill="none" stroke="#2016d0" stroke-width="3" stroke-linejoin="miter" />
<polyline points="84.91,1120.9 84.91,1058.58" fill="none" stroke="#2016d0" stroke-width="2.6" stroke-linejoin="miter" />
<polyline points="305.02,1247.98 305.02,1185.65" fill="none" stroke="#2016d0" stroke-width="2.6" stroke-linejoin="miter" />
<polyline points="671.88,1247.98 671.88,1185.65" fill="none" stroke="#2016d0" stroke-width="2.6" stroke-linejoin="miter" />
<polyline points="891.99,1120.9 891.99,1058.58" fill="none" stroke="#2016d0" stroke-width="2.6" stroke-linejoin="miter" />
<polyline points="84.91,909.1 84.91,846.77" fill="none" stroke="#2016d0" stroke-width="2.6" stroke-linejoin="miter" />
</g>
<g id="isocover">
<polygon points="669.59,677.24 596.98,635.32 596.98,644.02 669.59,685.94" fill="#fff" stroke="#2016d0" stroke-width="1.35" stroke-linejoin="miter" />
<polygon points="596.98,635.32 379.02,635.32 379.02,644.02 596.98,644.02" fill="#fff" stroke="#2016d0" stroke-width="1.35" stroke-linejoin="miter" />
<polygon points="379.02,635.32 306.41,677.24 306.41,685.94 379.02,644.02" fill="#fff" stroke="#2016d0" stroke-width="1.35" stroke-linejoin="miter" />
<polygon points="893.37,338.36 820.76,380.28 820.76,388.98 893.37,347.06" fill="#fff" stroke="#2016d0" stroke-width="1.35" stroke-linejoin="miter" />
<polygon points="82.63,338.36 155.24,380.28 155.24,388.98 82.63,347.06" fill="#fff" stroke="#2016d0" stroke-width="1.35" stroke-linejoin="miter" />
<polygon points="669.59,209.16 893.37,338.36 820.76,380.28 820.76,506.12 893.37,548.04 669.59,677.24 596.98,635.32 379.02,635.32 306.41,677.24 82.63,548.04 155.24,506.12 155.24,380.28 82.63,338.36 306.41,209.16 379.02,251.08 596.98,251.08" fill="#fff" stroke="#2016d0" stroke-width="1.35" stroke-linejoin="miter" />
<polygon points="82.63,548.04 306.41,677.24 306.41,678.84 82.63,549.64" fill="#2016d0" stroke="#2016d0" stroke-width="1.6" stroke-linejoin="miter" />
<polygon points="893.37,548.04 669.59,677.24 669.59,678.84 893.37,549.64" fill="#2016d0" stroke="#2016d0" stroke-width="1.6" stroke-linejoin="miter" />
<polygon points="82.63,548.04 82.63,558.04 89.63,552.24" fill="#fff" stroke="#2016d0" stroke-width="1.5" stroke-linejoin="miter" />
<polygon points="893.37,548.04 893.37,558.04 886.37,552.24" fill="#fff" stroke="#2016d0" stroke-width="1.5" stroke-linejoin="miter" />
<defs><path id="cu" d="M4.4 -0.42 L5.19 0.26 L5.47 1.06 L5.19 1.86 L4.4 2.54 L3.22 3 L1.83 3.16 L0.44 3 L-0.73 2.54 L-4.4 0.42 L-5.19 -0.26 L-5.47 -1.06 L-5.19 -1.86 L-4.4 -2.54 L-3.22 -3 L-1.83 -3.16 L-0.44 -3 L0.73 -2.54Z"/><path id="cv" d="M-4.4 -0.42 L-5.19 0.26 L-5.47 1.06 L-5.19 1.86 L-4.4 2.54 L-3.22 3 L-1.83 3.16 L-0.44 3 L0.73 2.54 L4.4 0.42 L5.19 -0.26 L5.47 -1.06 L5.19 -1.86 L4.4 -2.54 L3.22 -3 L1.83 -3.16 L0.44 -3 L-0.73 -2.54Z"/></defs>
<g fill="none" stroke="#3a2edc" stroke-width="1.4">
<use href="#cu" x="362.54" y="248.77"/>
<use href="#cv" x="613.46" y="248.77"/>
<use href="#cv" x="824.77" y="370.76"/>
<use href="#cu" x="824.77" y="515.64"/>
<use href="#cu" x="613.46" y="637.63"/>
<use href="#cv" x="362.54" y="637.63"/>
<use href="#cv" x="151.23" y="515.64"/>
<use href="#cu" x="151.23" y="370.76"/>
</g>
</g>
<g id="isoextras">
<line x1="151.6" y1="424" x2="151.6" y2="509" stroke="#666" stroke-width="0.9" stroke-dasharray="16 3 3 3"/>
<line x1="151.6" y1="589.5" x2="151.6" y2="1025" stroke="#666" stroke-width="0.9" stroke-dasharray="16 3 3 3"/>
<line x1="362.9" y1="549" x2="362.9" y2="636.5" stroke="#666" stroke-width="0.9" stroke-dasharray="16 3 3 3"/>
<line x1="362.9" y1="651" x2="362.9" y2="1147" stroke="#666" stroke-width="0.9" stroke-dasharray="16 3 3 3"/>
<g transform="translate(151 416.6)" stroke="#333" stroke-width="0.9">
<path d="M-2.2 2 L-2.2 11 L0 14.5 L2.2 11 L2.2 2 Z" fill="#999"/>
<ellipse cx="0" cy="0" rx="6.3" ry="3.6" fill="#fff" stroke-width="1.3"/>
<path d="M-2.5 -0.8 L2.5 0.8 M2.5 -0.8 L-2.5 0.8" stroke-width="0.9"/>
</g>
<g transform="translate(362.8 538.2)" stroke="#333" stroke-width="0.9">
<path d="M-2.2 2 L-2.2 11 L0 14.5 L2.2 11 L2.2 2 Z" fill="#999"/>
<ellipse cx="0" cy="0" rx="6.3" ry="3.6" fill="#fff" stroke-width="1.3"/>
<path d="M-2.5 -0.8 L2.5 0.8 M2.5 -0.8 L-2.5 0.8" stroke-width="0.9"/>
</g>
<g transform="translate(431 1178.9) scale(0.61 0.49)">
<text x="0" y="0" font-family='"Liberation Sans",sans-serif' font-weight="bold" fill="#fff" stroke="#3a3a3a" stroke-width="1.3" font-size="30.3" textLength="168" lengthAdjust="spacing" transform="scale(1.115 1)"><tspan font-size="39.4">B</tspan>ESTRAY</text>
<path d="M0.9 10.9 L7 10.9 C14 10.9 17 6.4 22.8 6.4 C28 6.4 34 10.9 44.3 10.9 L70 10.9 C76 10.9 80 6.4 85.5 6.4 C91 6.4 96 10.9 104.4 10.9 L130.2 10.9 C136 10.9 141 6.4 147.4 6.4 C153 6.4 158 10.9 167 10.9 C174 10.9 176 5 178.5 -1" fill="none" stroke="#3a3a3a" stroke-width="5.6" stroke-linecap="butt"/>
<path d="M0.9 10.9 L7 10.9 C14 10.9 17 6.4 22.8 6.4 C28 6.4 34 10.9 44.3 10.9 L70 10.9 C76 10.9 80 6.4 85.5 6.4 C91 6.4 96 10.9 104.4 10.9 L130.2 10.9 C136 10.9 141 6.4 147.4 6.4 C153 6.4 158 10.9 167 10.9 C174 10.9 176 5 178.5 -1" fill="none" stroke="#fff" stroke-width="3" stroke-linecap="butt"/>
</g>
</g>
<g id="punch">
<circle cx="1278.75" cy="583.8" r="102" fill="none" stroke="#111" stroke-width="1.5" stroke-dasharray="13.5 6.5"/>
<rect x="1214.75" y="514.3" width="43.3" height="12.2" rx="6.1" fill="none" stroke="#2016d0" stroke-width="2"/>
<rect x="1214.75" y="599.2" width="43.3" height="12.2" rx="6.1" fill="none" stroke="#2016d0" stroke-width="2"/>
<rect x="1314.9" y="541.15" width="12.2" height="43.3" rx="6.1" fill="none" stroke="#2016d0" stroke-width="2"/>
<rect x="1314.9" y="625.85" width="12.2" height="43.3" rx="6.1" fill="none" stroke="#2016d0" stroke-width="2"/>
<clipPath id="cpd"><circle cx="1278.75" cy="583.8" r="101.5"/></clipPath>
<g clip-path="url(#cpd)">
<rect x="1314.9" y="456.35" width="12.2" height="43.3" rx="6.1" fill="none" stroke="#2016d0" stroke-width="2"/>
</g>
<clipPath id="cps"><rect x="1314.9" y="456.4" width="12.2" height="43.3" rx="6.1"/></clipPath>
<circle cx="1278.75" cy="583.8" r="101.4" fill="none" stroke="#2016d0" stroke-width="2" clip-path="url(#cps)"/>
<line x1="1236" y1="438.2" x2="1236" y2="484.1" stroke="#2e2e2e" stroke-width="1" />
<line x1="1321" y1="438.2" x2="1321" y2="484.1" stroke="#2e2e2e" stroke-width="1" />
<line x1="1236" y1="446.7" x2="1321" y2="446.7" stroke="#2e2e2e" stroke-width="1" />
<polygon points="1236,446.7 1249,444.5 1249,448.9" fill="#000"/>
<polygon points="1321,446.7 1308,448.9 1308,444.5" fill="#000"/>
<line x1="1139" y1="520.4" x2="1190.4" y2="520.4" stroke="#2e2e2e" stroke-width="1" />
<line x1="1139" y1="605.3" x2="1171" y2="605.3" stroke="#2e2e2e" stroke-width="1" />
<line x1="1139" y1="647.5" x2="1190.4" y2="647.5" stroke="#2e2e2e" stroke-width="1" />
<line x1="1147.6" y1="520.4" x2="1147.6" y2="605.3" stroke="#2e2e2e" stroke-width="1" />
<polygon points="1147.6,520.4 1149.8,533.4 1145.4,533.4" fill="#000"/>
<polygon points="1147.6,605.3 1145.4,592.3 1149.8,592.3" fill="#000"/>
<line x1="1147.6" y1="605.3" x2="1147.6" y2="647.5" stroke="#2e2e2e" stroke-width="1" />
<polygon points="1147.6,605.3 1149.8,618.3 1145.4,618.3" fill="#000"/>
<polygon points="1147.6,647.5 1145.4,634.5 1149.8,634.5" fill="#000"/>
<line x1="1386.3" y1="562.7" x2="1418.6" y2="562.7" stroke="#2e2e2e" stroke-width="1" />
<line x1="1366" y1="647.5" x2="1418.6" y2="647.5" stroke="#2e2e2e" stroke-width="1" />
<line x1="1410.4" y1="562.7" x2="1410.4" y2="647.5" stroke="#2e2e2e" stroke-width="1" />
<polygon points="1410.4,562.7 1412.6,575.7 1408.2,575.7" fill="#000"/>
<polygon points="1410.4,647.5 1408.2,634.5 1412.6,634.5" fill="#000"/>
<polyline points="1460.6,498.3 1378.7,498.3 1326.2,543.1" fill="none" stroke="#2e2e2e" stroke-width="1" stroke-linejoin="miter" />
<polygon points="1326.2,543.1 1334.66,532.98 1337.51,536.33" fill="#000"/>
</g>
<g id="section">
<polygon points="1129.6,1121.6 1108.8,1121.6 1108.8,1248.4 1448.7,1248.4 1448.7,1121.6 1427.9,1121.6 1427.9,1124.2 1446.1,1124.2 1446.1,1245.8 1111.4,1245.8 1111.4,1124.2 1129.6,1124.2" fill="#dfe3ff" stroke="#2016d0" stroke-width="1.3" stroke-linejoin="miter" />
<polygon points="1105,1063.9 1105,1047.2 1452.5,1047.2 1452.5,1063.9 1449.9,1063.9 1449.9,1049.8 1107.6,1049.8 1107.6,1063.9" fill="#dfe3ff" stroke="#2016d0" stroke-width="1.3" stroke-linejoin="miter" />
<line x1="1119.9" y1="1030" x2="1119.9" y2="1131" stroke="#777" stroke-width="0.9" stroke-dasharray="14 3 3 3"/>
<line x1="1438.3" y1="1030" x2="1438.3" y2="1131" stroke="#777" stroke-width="0.9" stroke-dasharray="14 3 3 3"/>
<line x1="1100" y1="1185" x2="1122" y2="1185" stroke="#777" stroke-width="0.9" stroke-dasharray="9 3 2 3"/>
<line x1="1436" y1="1185" x2="1462" y2="1185" stroke="#777" stroke-width="0.9" stroke-dasharray="9 3 2 3"/>
<g transform="translate(1119.9 1009.4) scale(1)" stroke="#444" fill="#bbb" stroke-width="0.8">
<path d="M-11 6 Q-11 0 -3 0 L3 0 Q11 0 11 6 Z" fill="#ccc"/>
<rect x="-1.5" y="-0.5" width="3" height="3" fill="#fff" stroke="#444"/>
<path d="M-4.5 6 L4.5 6 L4.5 19 L0 26 L-4.5 19 Z" fill="#aaa"/>
<line x1="-5.5" y1="10" x2="5.5" y2="8" stroke="#555"/>
<line x1="-5.5" y1="13.5" x2="5.5" y2="11.5" stroke="#555"/>
<line x1="-5.5" y1="17" x2="5.5" y2="15" stroke="#555"/>
<line x1="-5.5" y1="20.5" x2="5.5" y2="18.5" stroke="#555"/>
</g>
<g transform="translate(1438.3 1009.4) scale(1)" stroke="#444" fill="#bbb" stroke-width="0.8">
<path d="M-11 6 Q-11 0 -3 0 L3 0 Q11 0 11 6 Z" fill="#ccc"/>
<rect x="-1.5" y="-0.5" width="3" height="3" fill="#fff" stroke="#444"/>
<path d="M-4.5 6 L4.5 6 L4.5 19 L0 26 L-4.5 19 Z" fill="#aaa"/>
<line x1="-5.5" y1="10" x2="5.5" y2="8" stroke="#555"/>
<line x1="-5.5" y1="13.5" x2="5.5" y2="11.5" stroke="#555"/>
<line x1="-5.5" y1="17" x2="5.5" y2="15" stroke="#555"/>
<line x1="-5.5" y1="20.5" x2="5.5" y2="18.5" stroke="#555"/>
</g>
<line x1="1105" y1="980" x2="1105" y2="1038.7" stroke="#2e2e2e" stroke-width="1" />
<line x1="1452.5" y1="980" x2="1452.5" y2="1038.7" stroke="#2e2e2e" stroke-width="1" />
<line x1="1105" y1="987.9" x2="1452.5" y2="987.9" stroke="#2e2e2e" stroke-width="1" />
<polygon points="1105,987.9 1119,985.6 1119,990.2" fill="#000"/>
<polygon points="1452.5,987.9 1438.5,990.2 1438.5,985.6" fill="#000"/>
<line x1="1461.3" y1="1047.2" x2="1499.1" y2="1047.2" stroke="#2e2e2e" stroke-width="1" />
<line x1="1461.3" y1="1063.9" x2="1499.1" y2="1063.9" stroke="#2e2e2e" stroke-width="1" />
<line x1="1490.6" y1="992" x2="1490.6" y2="1088.2" stroke="#2e2e2e" stroke-width="1" />
<polygon points="1490.6,1047.2 1488.3,1033.2 1492.9,1033.2" fill="#000"/>
<polygon points="1490.6,1063.9 1492.9,1077.9 1488.3,1077.9" fill="#000"/>
<line x1="1108.8" y1="1083.5" x2="1108.8" y2="1114" stroke="#2e2e2e" stroke-width="1" />
<line x1="1129.6" y1="1083.5" x2="1129.6" y2="1114" stroke="#2e2e2e" stroke-width="1" />
<line x1="1053" y1="1092" x2="1154.5" y2="1092" stroke="#2e2e2e" stroke-width="1" />
<polygon points="1108.8,1092 1094.8,1094.3 1094.8,1089.7" fill="#000"/>
<polygon points="1129.6,1092 1143.6,1089.7 1143.6,1094.3" fill="#000"/>
<line x1="1058.4" y1="1121.6" x2="1100.3" y2="1121.6" stroke="#2e2e2e" stroke-width="1" />
<line x1="1058.4" y1="1248.4" x2="1100.3" y2="1248.4" stroke="#2e2e2e" stroke-width="1" />
<line x1="1066.6" y1="1121.6" x2="1066.6" y2="1248.4" stroke="#2e2e2e" stroke-width="1" />
<polygon points="1066.6,1121.6 1068.9,1135.6 1064.3,1135.6" fill="#000"/>
<polygon points="1066.6,1248.4 1064.3,1234.4 1068.9,1234.4" fill="#000"/>
<line x1="1456.6" y1="1121.6" x2="1499" y2="1121.6" stroke="#2e2e2e" stroke-width="1" />
<line x1="1464.5" y1="1185" x2="1499" y2="1185" stroke="#2e2e2e" stroke-width="1" />
<line x1="1456.6" y1="1248.4" x2="1499" y2="1248.4" stroke="#2e2e2e" stroke-width="1" />
<line x1="1490.6" y1="1121.6" x2="1490.6" y2="1185" stroke="#2e2e2e" stroke-width="1" />
<polygon points="1490.6,1121.6 1492.9,1135.6 1488.3,1135.6" fill="#000"/>
<polygon points="1490.6,1185 1488.3,1171 1492.9,1171" fill="#000"/>
<line x1="1490.6" y1="1185" x2="1490.6" y2="1248.4" stroke="#2e2e2e" stroke-width="1" />
<polygon points="1490.6,1185 1492.9,1199 1488.3,1199" fill="#000"/>
<polygon points="1490.6,1248.4 1488.3,1234.4 1492.9,1234.4" fill="#000"/>
<line x1="1108.8" y1="1257.8" x2="1108.8" y2="1299.4" stroke="#2e2e2e" stroke-width="1" />
<line x1="1448.7" y1="1257.8" x2="1448.7" y2="1299.4" stroke="#2e2e2e" stroke-width="1" />
<line x1="1108.8" y1="1290.6" x2="1448.7" y2="1290.6" stroke="#2e2e2e" stroke-width="1" />
<polygon points="1108.8,1290.6 1122.8,1288.3 1122.8,1292.9" fill="#000"/>
<polygon points="1448.7,1290.6 1434.7,1292.9 1434.7,1288.3" fill="#000"/>
<polyline points="986.8,988 1081.4,988 1110.7,1010.9" fill="none" stroke="#2e2e2e" stroke-width="1" stroke-linejoin="miter" />
<polygon points="1110.7,1010.9 1099.1,1004.63 1101.81,1001.16" fill="#000"/>
<polyline points="1340,1087.2 1299,1087.2 1279,1050.4" fill="none" stroke="#2e2e2e" stroke-width="1" stroke-linejoin="miter" />
<polygon points="1279,1050.4 1287.14,1060.77 1283.27,1062.87" fill="#000"/>
<polyline points="1209,1208.6 1258,1208.6 1278.4,1245.2" fill="none" stroke="#2e2e2e" stroke-width="1" stroke-linejoin="miter" />
<polygon points="1278.4,1245.2 1270.17,1234.9 1274.02,1232.76" fill="#000"/>
</g>
<g id="enddetail">
<polygon points="2203.1,1121.9 1737,1121.9 1737,1248.4 2203.1,1248.4 2203.1,1212.5 2190.9,1198.1 2216.1,1173 2203.1,1158.6" fill="none" stroke="#2016d0" stroke-width="2" stroke-linejoin="miter" />
<rect x="1763.3" y="1177.6" width="15.2" height="15.2" fill="none" stroke="#2016d0" stroke-width="2"/>
<line x1="1753.9" y1="1185.2" x2="1787.9" y2="1185.2" stroke="#555" stroke-width="0.7" />
<line x1="1770.9" y1="1168.2" x2="1770.9" y2="1202.2" stroke="#555" stroke-width="0.7" />
<rect x="1830.8" y="1177.6" width="15.2" height="15.2" fill="none" stroke="#2016d0" stroke-width="2"/>
<line x1="1821.4" y1="1185.2" x2="1855.4" y2="1185.2" stroke="#555" stroke-width="0.7" />
<line x1="1838.4" y1="1168.2" x2="1838.4" y2="1202.2" stroke="#555" stroke-width="0.7" />
<line x1="1881.2" y1="1117" x2="1881.2" y2="1131" stroke="#555" stroke-width="0.8" />
<line x1="1737" y1="1070.5" x2="1737" y2="1113.7" stroke="#2e2e2e" stroke-width="1" />
<line x1="1770.9" y1="1070.5" x2="1770.9" y2="1113.7" stroke="#2e2e2e" stroke-width="1" />
<line x1="1838.4" y1="1070.5" x2="1838.4" y2="1113.7" stroke="#2e2e2e" stroke-width="1" />
<line x1="1881.2" y1="1070.5" x2="1881.2" y2="1113.7" stroke="#2e2e2e" stroke-width="1" />
<line x1="1711.9" y1="1079.5" x2="1881.2" y2="1079.5" stroke="#2e2e2e" stroke-width="1" />
<polygon points="1737,1079.5 1724,1081.7 1724,1077.3" fill="#000"/>
<polygon points="1770.9,1079.5 1783.9,1077.3 1783.9,1081.7" fill="#000"/>
<polygon points="1838.4,1079.5 1825.4,1081.7 1825.4,1077.3" fill="#000"/>
<polygon points="1838.4,1079.5 1851.4,1077.3 1851.4,1081.7" fill="#000"/>
<polygon points="1881.2,1079.5 1868.2,1081.7 1868.2,1077.3" fill="#000"/>
<line x1="1686.7" y1="1121.9" x2="1728" y2="1121.9" stroke="#2e2e2e" stroke-width="1" />
<line x1="1686.7" y1="1185.2" x2="1728" y2="1185.2" stroke="#2e2e2e" stroke-width="1" />
<line x1="1686.7" y1="1248.4" x2="1728" y2="1248.4" stroke="#2e2e2e" stroke-width="1" />
<line x1="1694.6" y1="1121.9" x2="1694.6" y2="1185.2" stroke="#2e2e2e" stroke-width="1" />
<polygon points="1694.6,1121.9 1696.8,1134.9 1692.4,1134.9" fill="#000"/>
<polygon points="1694.6,1185.2 1692.4,1172.2 1696.8,1172.2" fill="#000"/>
<line x1="1694.6" y1="1185.2" x2="1694.6" y2="1248.4" stroke="#2e2e2e" stroke-width="1" />
<polygon points="1694.6,1185.2 1696.8,1198.2 1692.4,1198.2" fill="#000"/>
<polygon points="1694.6,1248.4 1692.4,1235.4 1696.8,1235.4" fill="#000"/>
<g transform="translate(1905.9 1192.8) scale(1 1)">
<text x="0" y="0" font-family='"Liberation Sans",sans-serif' font-weight="bold" fill="#fff" stroke="#3a3a3a" stroke-width="0.9" font-size="30.3" textLength="168" lengthAdjust="spacing" transform="scale(1.115 1)"><tspan font-size="39.4">B</tspan>ESTRAY</text>
<path d="M0.9 10.9 L7 10.9 C14 10.9 17 6.4 22.8 6.4 C28 6.4 34 10.9 44.3 10.9 L70 10.9 C76 10.9 80 6.4 85.5 6.4 C91 6.4 96 10.9 104.4 10.9 L130.2 10.9 C136 10.9 141 6.4 147.4 6.4 C153 6.4 158 10.9 167 10.9 C174 10.9 176 5 178.5 -1" fill="none" stroke="#3a3a3a" stroke-width="5.2" stroke-linecap="butt"/>
<path d="M0.9 10.9 L7 10.9 C14 10.9 17 6.4 22.8 6.4 C28 6.4 34 10.9 44.3 10.9 L70 10.9 C76 10.9 80 6.4 85.5 6.4 C91 6.4 96 10.9 104.4 10.9 L130.2 10.9 C136 10.9 141 6.4 147.4 6.4 C153 6.4 158 10.9 167 10.9 C174 10.9 176 5 178.5 -1" fill="none" stroke="#fff" stroke-width="3.4" stroke-linecap="butt"/>
</g>
<polyline points="2000,1079.5 1904.1,1079.5 1881.5,1120.9" fill="none" stroke="#2e2e2e" stroke-width="1" stroke-linejoin="miter" />
<polygon points="1881.5,1120.9 1885.79,1108.43 1889.65,1110.54" fill="#000"/>
<polyline points="2018,1291.6 1830.5,1291.6 1778.4,1192.7" fill="none" stroke="#2e2e2e" stroke-width="1" stroke-linejoin="miter" />
<polygon points="1778.4,1192.7 1786.41,1203.17 1782.52,1205.23" fill="#000"/>
<line x1="1898" y1="1291.6" x2="1847.7" y2="1192.7" stroke="#2e2e2e" stroke-width="1" />
<polygon points="1847.7,1192.7 1855.56,1203.28 1851.64,1205.28" fill="#000"/>
</g>
<g id="texts">
<text x="28.5" y="69.7" font-size="56" text-anchor="start" fill="#000" font-family='"DejaVu Sans Condensed","Liberation Sans",sans-serif' stroke="#000" stroke-width="0.5" textLength="816" lengthAdjust="spacingAndGlyphs" >Khay Cáp Kiểu Chữ C, Tấm Gấp</text>
<text x="1075.5" y="72" font-size="57" stroke="#000" stroke-width="0.5" font-family='"DejaVu Sans Condensed","Liberation Sans",sans-serif' textLength="404" lengthAdjust="spacingAndGlyphs">CTC-07xx-<tspan fill="#ff00ff" stroke="#ff00ff">U</tspan>-HC</text>
<text x="1121.5" y="151.2" font-size="57" text-anchor="start" fill="#000" font-family='"DejaVu Sans Condensed","Liberation Sans",sans-serif' stroke="#000" stroke-width="0.5" textLength="312" lengthAdjust="spacingAndGlyphs" >R=150 (DC)</text>
<text x="2329" y="67.5" font-size="57" text-anchor="start" fill="#000" font-family='"DejaVu Sans Condensed","Liberation Sans",sans-serif' stroke="#000" stroke-width="0.5" textLength="188.5" lengthAdjust="spacingAndGlyphs" >Ngã Tư</text>
<text x="340" y="164.7" font-size="30" text-anchor="start" fill="#000" font-family='"DejaVu Sans Condensed","Liberation Sans",sans-serif' stroke="#000" stroke-width="0.24" textLength="294.6" lengthAdjust="spacingAndGlyphs" >HÌNH KHỐI TỔNG THỂ</text>
<line x1="340" y1="169.9" x2="635" y2="169.9" stroke="#333" stroke-width="1.2" />
<text x="1139.6" y="737.3" font-size="30" text-anchor="start" fill="#000" font-family='"DejaVu Sans Condensed","Liberation Sans",sans-serif' stroke="#000" stroke-width="0.24" textLength="276.7" lengthAdjust="spacingAndGlyphs" >Quy Cách Đột Lỗ Đáy</text>
<line x1="1139.6" y1="746" x2="1416.5" y2="746" stroke="#333" stroke-width="1.2" />
<text x="2254.5" y="985.9" font-size="30" text-anchor="start" fill="#000" font-family='"DejaVu Sans Condensed","Liberation Sans",sans-serif' stroke="#000" stroke-width="0.24" textLength="242.6" lengthAdjust="spacingAndGlyphs" >HÌNH CHIẾU BẰNG</text>
<line x1="2254.5" y1="993" x2="2497.5" y2="993" stroke="#333" stroke-width="1.2" />
<text x="1166.5" y="1344.5" font-size="29.5" text-anchor="start" fill="#000" font-family='"DejaVu Sans Condensed","Liberation Sans",sans-serif' stroke="#000" stroke-width="0.24" textLength="222.9" lengthAdjust="spacingAndGlyphs" >MẶT CẮT NGANG</text>
<line x1="1166.5" y1="1350.8" x2="1389.6" y2="1350.8" stroke="#333" stroke-width="1.2" />
<text x="1859.2" y="1341.9" font-size="29.5" text-anchor="start" fill="#000" font-family='"DejaVu Sans Condensed","Liberation Sans",sans-serif' stroke="#000" stroke-width="0.24" textLength="222.8" lengthAdjust="spacingAndGlyphs" >Chi Tiết Đầu Cuối</text>
<line x1="1859.2" y1="1348" x2="2082.3" y2="1348" stroke="#333" stroke-width="1.2" />
<text x="1114.7" y="225" font-size="18.6" text-anchor="start" fill="#000" font-family='"DejaVu Sans Condensed","Liberation Sans",sans-serif' stroke="#000" stroke-width="0.15" textLength="73" lengthAdjust="spacingAndGlyphs" >Ghi chú:</text>
<line x1="1114.7" y1="228.3" x2="1188" y2="228.3" stroke="#333" stroke-width="1" />
<text x="1114.7" y="254.3" font-size="18.6" text-anchor="start" fill="#000" font-family='"DejaVu Sans Condensed","Liberation Sans",sans-serif' stroke="#000" stroke-width="0.15" textLength="253.5" lengthAdjust="spacingAndGlyphs" >DC: Góc vát xéo (R75, R150)</text>
<text x="1114.7" y="283.6" font-size="18.6" text-anchor="start" fill="#000" font-family='"DejaVu Sans Condensed","Liberation Sans",sans-serif' stroke="#000" stroke-width="0.15" textLength="184.4" lengthAdjust="spacingAndGlyphs" >CC: Góc cong (R300)</text>
<text x="1114.7" y="313.3" font-size="18.6" text-anchor="start" fill="#000" font-family='"DejaVu Sans Condensed","Liberation Sans",sans-serif' stroke="#000" stroke-width="0.15" textLength="322.5" lengthAdjust="spacingAndGlyphs" >07xx: Series 0710, 0712, 0715, 0720</text>
<text x="1114.7" y="342.6" font-size="18.6" text-anchor="start" fill="#000" font-family='"DejaVu Sans Condensed","Liberation Sans",sans-serif' stroke="#000" stroke-width="0.15" textLength="344.8" lengthAdjust="spacingAndGlyphs" >Kích thước thể hiện là Millimeters (mm)</text>
<text x="132.4" y="230.2" font-size="18.6" text-anchor="start" fill="#000" font-family='"DejaVu Sans Condensed","Liberation Sans",sans-serif' stroke="#000" stroke-width="0.15" textLength="34.6" lengthAdjust="spacingAndGlyphs" >Nắp</text>
<polyline points="133.3,236.4 174.8,236.4 194.5,273.5" fill="none" stroke="#2e2e2e" stroke-width="1" stroke-linejoin="miter" />
<polygon points="194.5,273.5 186.45,263.05 190.34,260.99" fill="#000"/>
<text x="205.4" y="388.5" font-size="18.6" text-anchor="start" fill="#000" font-family='"DejaVu Sans Condensed","Liberation Sans",sans-serif' stroke="#000" stroke-width="0.15" textLength="69.9" lengthAdjust="spacingAndGlyphs" >Vít (std)</text>
<text x="202" y="413.8" font-size="18.6" text-anchor="start" fill="#000" font-family='"DejaVu Sans Condensed","Liberation Sans",sans-serif' stroke="#000" stroke-width="0.15" textLength="76" lengthAdjust="spacingAndGlyphs" ><tspan font-style="italic" stroke-width="0">ø</tspan>5 x 10L</text>
<polyline points="279.7,392.8 185.8,392.8 157.3,415.6" fill="none" stroke="#2e2e2e" stroke-width="1" stroke-linejoin="miter" />
<polygon points="157.3,415.6 166.07,405.75 168.82,409.19" fill="#000"/>
<text x="856.6" y="472.4" font-size="18.6" text-anchor="start" fill="#000" font-family='"DejaVu Sans Condensed","Liberation Sans",sans-serif' stroke="#000" stroke-width="0.15" textLength="58.2" lengthAdjust="spacingAndGlyphs" >Lỗ nắp</text>
<text x="851.4" y="497.7" font-size="18.6" text-anchor="start" fill="#000" font-family='"DejaVu Sans Condensed","Liberation Sans",sans-serif' stroke="#000" stroke-width="0.15" textLength="76" lengthAdjust="spacingAndGlyphs" ><tspan font-style="italic" stroke-width="0">ø</tspan>7 x 12L</text>
<polyline points="933,475.9 848,475.9 827.4,513" fill="none" stroke="#2e2e2e" stroke-width="1" stroke-linejoin="miter" />
<polygon points="827.4,513 831.78,500.56 835.63,502.7" fill="#000"/>
<text x="513.5" y="603.5" font-size="18.6" text-anchor="start" fill="#000" font-family='"DejaVu Sans Condensed","Liberation Sans",sans-serif' stroke="#000" stroke-width="0.15" textLength="81.8" lengthAdjust="spacingAndGlyphs" >Vành liền</text>
<polyline points="595.3,607 507,607 488.6,643.3" fill="none" stroke="#2e2e2e" stroke-width="1" stroke-linejoin="miter" />
<polygon points="488.6,643.3 492.54,630.72 496.46,632.72" fill="#000"/>
<text x="399.1" y="710.1" font-size="18.6" text-anchor="start" fill="#000" font-family='"DejaVu Sans Condensed","Liberation Sans",sans-serif' stroke="#000" stroke-width="0.15" textLength="99.5" lengthAdjust="spacingAndGlyphs" >Hông máng</text>
<text x="395.4" y="737.6" font-size="18.6" stroke="#000" stroke-width="0.15" font-family='"DejaVu Sans Condensed","Liberation Sans",sans-serif' textLength="107.4" lengthAdjust="spacingAndGlyphs">không lỗ (<tspan fill="#ff00ff" stroke="#ff00ff">U</tspan>)</text>
<polyline points="395.4,714.3 509,714.3 549.2,790.6" fill="none" stroke="#2e2e2e" stroke-width="1" stroke-linejoin="miter" />
<polygon points="549.2,790.6 541.26,780.07 545.17,778.05" fill="#000"/>
<text x="831" y="786.4" font-size="18.6" text-anchor="start" fill="#000" font-family='"DejaVu Sans Condensed","Liberation Sans",sans-serif' stroke="#000" stroke-width="0.15" textLength="88.5" lengthAdjust="spacingAndGlyphs" >Lỗ nắp <tspan font-style="italic" stroke-width="0">ø</tspan>4</text>
<line x1="824.8" y1="790.2" x2="921" y2="790.2" stroke="#2e2e2e" stroke-width="1" />
<line x1="872.2" y1="790.2" x2="826.2" y2="878.2" stroke="#2e2e2e" stroke-width="1" />
<polygon points="826.2,878.2 830.27,865.66 834.17,867.7" fill="#000"/>
<text x="44" y="999.4" font-size="18.6" text-anchor="start" fill="#000" font-family='"DejaVu Sans Condensed","Liberation Sans",sans-serif' stroke="#000" stroke-width="0.15" textLength="43.6" lengthAdjust="spacingAndGlyphs" >Thân</text>
<polyline points="44,1003.2 93.3,1003.2 113.6,1039.7" fill="none" stroke="#2e2e2e" stroke-width="1" stroke-linejoin="miter" />
<polygon points="113.6,1039.7 105.37,1029.4 109.22,1027.26" fill="#000"/>
<text x="1411" y="492.8" font-size="18.6" text-anchor="start" fill="#000" font-family='"DejaVu Sans Condensed","Liberation Sans",sans-serif' stroke="#000" stroke-width="0.15" textLength="20" lengthAdjust="spacingAndGlyphs" >Lỗ</text>
<text x="1383" y="519" font-size="18.6" text-anchor="start" fill="#000" font-family='"DejaVu Sans Condensed","Liberation Sans",sans-serif' stroke="#000" stroke-width="0.15" textLength="75.8" lengthAdjust="spacingAndGlyphs" ><tspan font-style="italic" stroke-width="0">ø</tspan>7 x 25L</text>
<text x="991.5" y="982.6" font-size="18.6" text-anchor="start" fill="#000" font-family='"DejaVu Sans Condensed","Liberation Sans",sans-serif' stroke="#000" stroke-width="0.15" textLength="71" lengthAdjust="spacingAndGlyphs" >Vít (std)</text>
<text x="988.4" y="1007.8" font-size="18.6" text-anchor="start" fill="#000" font-family='"DejaVu Sans Condensed","Liberation Sans",sans-serif' stroke="#000" stroke-width="0.15" textLength="75.6" lengthAdjust="spacingAndGlyphs" ><tspan font-style="italic" stroke-width="0">ø</tspan>5 x 10L</text>
<text x="1305.2" y="1080.3" font-size="18.6" text-anchor="start" fill="#000" font-family='"DejaVu Sans Condensed","Liberation Sans",sans-serif' stroke="#000" stroke-width="0.15" textLength="34.8" lengthAdjust="spacingAndGlyphs" >Nắp</text>
<text x="1209" y="1203.3" font-size="18.6" text-anchor="start" fill="#000" font-family='"DejaVu Sans Condensed","Liberation Sans",sans-serif' stroke="#000" stroke-width="0.15" textLength="42.6" lengthAdjust="spacingAndGlyphs" >Thân</text>
<text x="1911.3" y="1075.2" font-size="18.6" text-anchor="start" fill="#000" font-family='"DejaVu Sans Condensed","Liberation Sans",sans-serif' stroke="#000" stroke-width="0.15" textLength="88.1" lengthAdjust="spacingAndGlyphs" >Lỗ nắp <tspan font-style="italic" stroke-width="0">ø</tspan>4</text>
<text x="1909.5" y="1288" font-size="18.6" text-anchor="start" fill="#000" font-family='"DejaVu Sans Condensed","Liberation Sans",sans-serif' stroke="#000" stroke-width="0.15" textLength="107.8" lengthAdjust="spacingAndGlyphs" >Lỗ nối □ 9x9</text>
<text x="2248" y="206.1" font-size="18.6" text-anchor="start" fill="#000" font-family='"DejaVu Sans Condensed","Liberation Sans",sans-serif' stroke="#000" stroke-width="0.15" textLength="119" lengthAdjust="spacingAndGlyphs" >Luôn đắp liền</text>
<text x="2261.6" y="232.2" font-size="18.6" text-anchor="start" fill="#000" font-family='"DejaVu Sans Condensed","Liberation Sans",sans-serif' stroke="#000" stroke-width="0.15" textLength="92.1" lengthAdjust="spacingAndGlyphs" >mép ở góc</text>
<text x="2075.4" y="123.2" font-size="23.5" text-anchor="middle" fill="#e8474c" font-family='"DejaVu Sans Light","DejaVu Sans","Liberation Sans",sans-serif' stroke="#e8474c" stroke-width="0.35" >L</text>
<text x="1691.3" y="211.3" font-size="23.5" text-anchor="middle" fill="#e8474c" font-family='"DejaVu Sans Light","DejaVu Sans","Liberation Sans",sans-serif' stroke="#e8474c" stroke-width="0.35" textLength="42.5" lengthAdjust="spacingAndGlyphs" transform="rotate(-90 1691.3 211.3)" >100</text>
<text x="1691.3" y="316.9" font-size="23.5" text-anchor="middle" fill="#e8474c" font-family='"DejaVu Sans Light","DejaVu Sans","Liberation Sans",sans-serif' stroke="#e8474c" stroke-width="0.35" textLength="45" lengthAdjust="spacingAndGlyphs" transform="rotate(-90 1691.3 316.9)" >150</text>
<text x="1691.3" y="507.5" font-size="23.5" text-anchor="middle" fill="#e8474c" font-family='"DejaVu Sans Light","DejaVu Sans","Liberation Sans",sans-serif' stroke="#e8474c" stroke-width="0.35" transform="rotate(-90 1691.3 507.5)" >W</text>
<text x="1691.3" y="740.6" font-size="23.5" text-anchor="middle" fill="#e8474c" font-family='"DejaVu Sans Light","DejaVu Sans","Liberation Sans",sans-serif' stroke="#e8474c" stroke-width="0.35" textLength="47" lengthAdjust="spacingAndGlyphs" transform="rotate(-90 1691.3 740.6)" >250</text>
<text x="2454" y="508.5" font-size="23.5" text-anchor="middle" fill="#e8474c" font-family='"DejaVu Sans Light","DejaVu Sans","Liberation Sans",sans-serif' stroke="#e8474c" stroke-width="0.35" transform="rotate(-90 2454 508.5)" >L</text>
<text x="1844" y="884.5" font-size="23.5" text-anchor="middle" fill="#e8474c" font-family='"DejaVu Sans Light","DejaVu Sans","Liberation Sans",sans-serif' stroke="#e8474c" stroke-width="0.35" textLength="47.5" lengthAdjust="spacingAndGlyphs" >250</text>
<text x="2076.7" y="884.5" font-size="23.5" text-anchor="middle" fill="#e8474c" font-family='"DejaVu Sans Light","DejaVu Sans","Liberation Sans",sans-serif' stroke="#e8474c" stroke-width="0.35" >W</text>
<text x="2268" y="884.5" font-size="23.5" text-anchor="middle" fill="#e8474c" font-family='"DejaVu Sans Light","DejaVu Sans","Liberation Sans",sans-serif' stroke="#e8474c" stroke-width="0.35" textLength="44" lengthAdjust="spacingAndGlyphs" >150</text>
<text x="2373.1" y="884.5" font-size="23.5" text-anchor="middle" fill="#e8474c" font-family='"DejaVu Sans Light","DejaVu Sans","Liberation Sans",sans-serif' stroke="#e8474c" stroke-width="0.35" textLength="45.5" lengthAdjust="spacingAndGlyphs" >100</text>
<text x="1848" y="737" font-size="23.5" text-anchor="middle" fill="#e8474c" font-family='"DejaVu Sans Light","DejaVu Sans","Liberation Sans",sans-serif' stroke="#e8474c" stroke-width="0.35" textLength="60" lengthAdjust="spacingAndGlyphs" transform="rotate(-45 1848 737)" >R150</text>
<text x="1278.5" y="442" font-size="18.5" text-anchor="middle" fill="#e8474c" font-family='"DejaVu Sans Light","DejaVu Sans","Liberation Sans",sans-serif' stroke="#e8474c" stroke-width="0.35" textLength="27" lengthAdjust="spacingAndGlyphs" >50</text>
<text x="1143.9" y="562.9" font-size="18.5" text-anchor="middle" fill="#e8474c" font-family='"DejaVu Sans Light","DejaVu Sans","Liberation Sans",sans-serif' stroke="#e8474c" stroke-width="0.35" textLength="26" lengthAdjust="spacingAndGlyphs" transform="rotate(-90 1143.9 562.9)" >50</text>
<text x="1143.9" y="626.6" font-size="18.5" text-anchor="middle" fill="#e8474c" font-family='"DejaVu Sans Light","DejaVu Sans","Liberation Sans",sans-serif' stroke="#e8474c" stroke-width="0.35" textLength="25" lengthAdjust="spacingAndGlyphs" transform="rotate(-90 1143.9 626.6)" >25</text>
<text x="1406" y="605" font-size="18.5" text-anchor="middle" fill="#e8474c" font-family='"DejaVu Sans Light","DejaVu Sans","Liberation Sans",sans-serif' stroke="#e8474c" stroke-width="0.35" textLength="27" lengthAdjust="spacingAndGlyphs" transform="rotate(-90 1406 605)" >50</text>
<text x="1279" y="982.6" font-size="18.5" text-anchor="middle" fill="#e8474c" font-family='"DejaVu Sans Light","DejaVu Sans","Liberation Sans",sans-serif' stroke="#e8474c" stroke-width="0.35" textLength="47.5" lengthAdjust="spacingAndGlyphs" >W+5</text>
<text x="1485.9" y="1005.6" font-size="18.5" text-anchor="middle" fill="#e8474c" font-family='"DejaVu Sans Light","DejaVu Sans","Liberation Sans",sans-serif' stroke="#e8474c" stroke-width="0.35" textLength="22.5" lengthAdjust="spacingAndGlyphs" transform="rotate(-90 1485.9 1005.6)" >10</text>
<text x="1068" y="1087.6" font-size="18.5" text-anchor="middle" fill="#e8474c" font-family='"DejaVu Sans Light","DejaVu Sans","Liberation Sans",sans-serif' stroke="#e8474c" stroke-width="0.35" textLength="25.5" lengthAdjust="spacingAndGlyphs" >12</text>
<text x="1062.5" y="1186" font-size="18.5" text-anchor="middle" fill="#e8474c" font-family='"DejaVu Sans Light","DejaVu Sans","Liberation Sans",sans-serif' stroke="#e8474c" stroke-width="0.35" textLength="58.5" lengthAdjust="spacingAndGlyphs" transform="rotate(-90 1062.5 1186)" >H=75</text>
<text x="1486" y="1152.8" font-size="18.5" text-anchor="middle" fill="#e8474c" font-family='"DejaVu Sans Light","DejaVu Sans","Liberation Sans",sans-serif' stroke="#e8474c" stroke-width="0.35" textLength="47.5" lengthAdjust="spacingAndGlyphs" transform="rotate(-90 1486 1152.8)" >37.5</text>
<text x="1486" y="1215.9" font-size="18.5" text-anchor="middle" fill="#e8474c" font-family='"DejaVu Sans Light","DejaVu Sans","Liberation Sans",sans-serif' stroke="#e8474c" stroke-width="0.35" textLength="47.5" lengthAdjust="spacingAndGlyphs" transform="rotate(-90 1486 1215.9)" >37.5</text>
<text x="1278.4" y="1286.2" font-size="18.5" text-anchor="middle" fill="#e8474c" font-family='"DejaVu Sans Light","DejaVu Sans","Liberation Sans",sans-serif' stroke="#e8474c" stroke-width="0.35" >W</text>
<text x="1754.5" y="1075.2" font-size="18.5" text-anchor="middle" fill="#e8474c" font-family='"DejaVu Sans Light","DejaVu Sans","Liberation Sans",sans-serif' stroke="#e8474c" stroke-width="0.35" textLength="26" lengthAdjust="spacingAndGlyphs" >20</text>
<text x="1805.3" y="1075.2" font-size="18.5" text-anchor="middle" fill="#e8474c" font-family='"DejaVu Sans Light","DejaVu Sans","Liberation Sans",sans-serif' stroke="#e8474c" stroke-width="0.35" textLength="27" lengthAdjust="spacingAndGlyphs" >40</text>
<text x="1860.6" y="1075.2" font-size="18.5" text-anchor="middle" fill="#e8474c" font-family='"DejaVu Sans Light","DejaVu Sans","Liberation Sans",sans-serif' stroke="#e8474c" stroke-width="0.35" textLength="26.5" lengthAdjust="spacingAndGlyphs" >25</text>
<text x="1690.3" y="1151.4" font-size="18.5" text-anchor="middle" fill="#e8474c" font-family='"DejaVu Sans Light","DejaVu Sans","Liberation Sans",sans-serif' stroke="#e8474c" stroke-width="0.35" textLength="47.5" lengthAdjust="spacingAndGlyphs" transform="rotate(-90 1690.3 1151.4)" >37.5</text>
<text x="1690.3" y="1216.1" font-size="18.5" text-anchor="middle" fill="#e8474c" font-family='"DejaVu Sans Light","DejaVu Sans","Liberation Sans",sans-serif' stroke="#e8474c" stroke-width="0.35" textLength="47.5" lengthAdjust="spacingAndGlyphs" transform="rotate(-90 1690.3 1216.1)" >37.5</text>
<text font-size="23.5" fill="#e8474c" font-family='"DejaVu Sans Light","DejaVu Sans","Liberation Sans",sans-serif' textLength="44.5" lengthAdjust="spacingAndGlyphs" transform="matrix(0 -1 1 -0.577 43.7 1132)">75H</text>
<text font-size="23.5" fill="#e8474c" font-family='"DejaVu Sans Light","DejaVu Sans","Liberation Sans",sans-serif' text-anchor="middle" textLength="16" lengthAdjust="spacingAndGlyphs" transform="matrix(0.866 0.5 -0.987 0.57 154.2 1199.3)">W</text>
<line x1="47.85" y1="1079.8" x2="47.85" y2="1142.3" stroke="#2e2e2e" stroke-width="1" />
<polygon points="47.85,1079.8 50.35,1095.8 45.35,1095.8" fill="#000"/>
<polygon points="47.85,1142.3 45.35,1126.3 50.35,1126.3" fill="#000"/>
<line x1="39.7" y1="1084.1" x2="76.9" y2="1062.9" stroke="#2e2e2e" stroke-width="1" />
<line x1="39.7" y1="1147.5" x2="76.9" y2="1126.1" stroke="#2e2e2e" stroke-width="1" />
<line x1="47.85" y1="1142.3" x2="267.1" y2="1268.6" stroke="#2e2e2e" stroke-width="1" />
<polygon points="47.85,1142.3 62.96,1148.13 60.46,1152.47" fill="#000"/>
<polygon points="267.1,1268.6 251.99,1262.77 254.49,1258.43" fill="#000"/>
<line x1="296.8" y1="1253.4" x2="262" y2="1273.3" stroke="#2e2e2e" stroke-width="1" />
<text x="285" y="1343.6" font-size="58" fill="#f26a22" stroke="#f26a22" stroke-width="1.5" font-family='"Liberation Sans",sans-serif' textLength="406.5" lengthAdjust="spacingAndGlyphs">ThangMangCap</text>
<text y="1344.1" font-family='"Liberation Sans",sans-serif'><tspan x="688.9" font-size="60" fill="#fff" stroke="#777" stroke-width="1.7" stroke-linejoin="round">.</tspan><tspan x="703.5" font-size="35" fill="#000" stroke="#000" stroke-width="1.0" textLength="70" lengthAdjust="spacingAndGlyphs">com</tspan></text>
</g>
</svg></body></html>
